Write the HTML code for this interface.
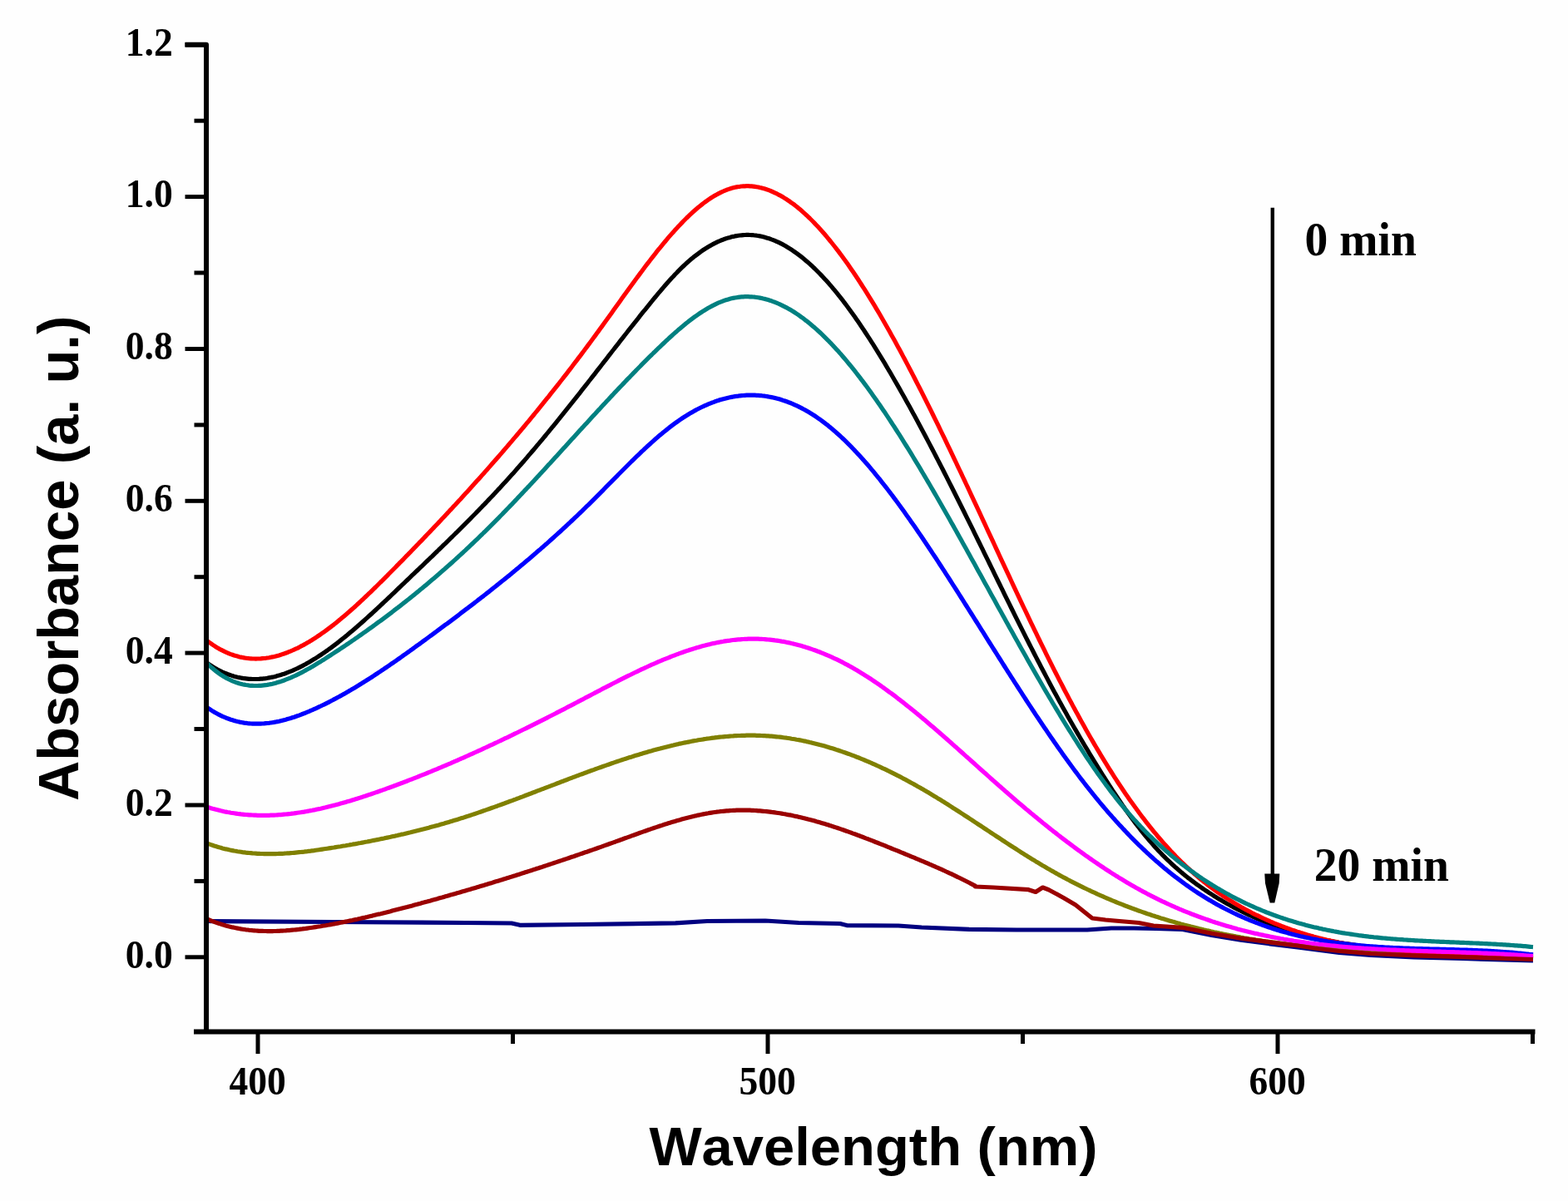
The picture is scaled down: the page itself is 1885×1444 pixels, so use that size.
<!DOCTYPE html>
<html><head><meta charset="utf-8"><title>Absorbance vs Wavelength</title>
<style>
html,body{margin:0;padding:0;background:#fefefe;}
body{width:1885px;height:1444px;overflow:hidden;}
svg{display:block;}
text{font-kerning:none;font-feature-settings:"kern" 0;}
.tl{font-family:"Liberation Serif","Times New Roman",serif;font-weight:bold;font-size:48px;fill:#000;}
.at{font-family:"Liberation Sans",Arial,sans-serif;font-weight:bold;font-size:67px;fill:#000;}
.an{font-family:"Liberation Serif","Times New Roman",serif;font-weight:bold;font-size:55.6px;fill:#000;}
</style></head>
<body>
<svg width="1885" height="1444" viewBox="0 0 1885 1444">
<rect width="1885" height="1444" fill="#fefefe"/>
<g fill="none" stroke-width="5.2" stroke-linejoin="round" stroke-linecap="butt">
<path d="M248.0,1107.5 400.0,1108.5 560.0,1109.5 615.0,1110.0 625.0,1112.3 700.0,1111.5 812.0,1109.8 850.0,1107.5 920.0,1107.0 960.0,1109.5 1010.0,1110.5 1018.0,1112.6 1080.0,1113.0 1108.0,1115.0 1165.0,1117.4 1222.0,1118.0 1307.0,1118.0 1336.0,1116.0 1363.0,1116.0 1390.0,1116.5 1421.7,1117.5 1456.7,1124.5 1491.7,1130.2 1526.7,1134.8 1560.0,1139.0 1610.0,1145.5 1648.0,1148.5 1700.0,1150.8 1759.0,1152.5 1843.0,1155.0" stroke="#000080"/>
<path d="M247.5,1013.5 249.5,1014.2 251.5,1014.9 253.5,1015.6 255.5,1016.3 257.5,1017.0 259.5,1017.6 261.5,1018.2 263.5,1018.8 265.5,1019.3 267.5,1019.9 269.5,1020.4 271.5,1020.9 273.5,1021.3 275.5,1021.8 277.5,1022.2 279.5,1022.6 281.5,1023.0 283.5,1023.3 285.5,1023.7 287.5,1024.0 289.5,1024.3 291.5,1024.6 293.5,1024.8 295.5,1025.1 297.5,1025.3 299.5,1025.5 301.5,1025.7 303.5,1025.9 305.5,1026.0 307.5,1026.1 309.5,1026.3 311.5,1026.4 313.5,1026.5 315.5,1026.5 317.5,1026.6 319.5,1026.6 321.5,1026.6 323.5,1026.7 325.5,1026.7 327.5,1026.6 329.5,1026.6 331.5,1026.6 333.5,1026.5 335.5,1026.4 337.5,1026.4 339.5,1026.3 341.5,1026.2 343.5,1026.0 345.5,1025.9 347.5,1025.8 349.5,1025.6 351.5,1025.5 353.5,1025.3 355.5,1025.1 357.5,1024.9 359.5,1024.7 361.5,1024.5 363.5,1024.3 365.5,1024.1 367.5,1023.8 369.5,1023.6 371.5,1023.3 373.5,1023.1 375.5,1022.8 377.5,1022.6 379.5,1022.3 381.5,1022.0 383.5,1021.7 385.5,1021.4 387.5,1021.1 389.5,1020.8 391.5,1020.5 393.5,1020.2 395.5,1019.9 397.5,1019.6 399.5,1019.3 401.5,1019.0 403.5,1018.6 405.5,1018.3 407.5,1018.0 409.5,1017.7 411.5,1017.3 413.5,1017.0 415.5,1016.7 417.5,1016.3 419.5,1016.0 421.5,1015.6 423.5,1015.3 425.5,1014.9 427.5,1014.6 429.5,1014.2 431.5,1013.8 433.5,1013.5 435.5,1013.1 437.5,1012.7 439.5,1012.3 441.5,1012.0 443.5,1011.6 445.5,1011.2 447.5,1010.8 449.5,1010.4 451.5,1010.0 453.5,1009.6 455.5,1009.2 457.5,1008.8 459.5,1008.4 461.5,1008.0 463.5,1007.5 465.5,1007.1 467.5,1006.7 469.5,1006.3 471.5,1005.8 473.5,1005.4 475.5,1004.9 477.5,1004.5 479.5,1004.0 481.5,1003.6 483.5,1003.1 485.5,1002.7 487.5,1002.2 489.5,1001.7 491.5,1001.2 493.5,1000.8 495.5,1000.3 497.5,999.8 499.5,999.3 501.5,998.8 503.5,998.3 505.5,997.8 507.5,997.3 509.5,996.8 511.5,996.2 513.5,995.7 515.5,995.2 517.5,994.6 519.5,994.1 521.5,993.6 523.5,993.0 525.5,992.4 527.5,991.9 529.5,991.3 531.5,990.7 533.5,990.2 535.5,989.6 537.5,989.0 539.5,988.4 541.5,987.8 543.5,987.2 545.5,986.6 547.5,986.0 549.5,985.4 551.5,984.8 553.5,984.1 555.5,983.5 557.5,982.9 559.5,982.2 561.5,981.6 563.5,980.9 565.5,980.3 567.5,979.6 569.5,978.9 571.5,978.3 573.5,977.6 575.5,976.9 577.5,976.2 579.5,975.5 581.5,974.8 583.5,974.1 585.5,973.4 587.5,972.7 589.5,972.0 591.5,971.3 593.5,970.6 595.5,969.9 597.5,969.2 599.5,968.4 601.5,967.7 603.5,967.0 605.5,966.3 607.5,965.5 609.5,964.8 611.5,964.0 613.5,963.3 615.5,962.6 617.5,961.8 619.5,961.1 621.5,960.3 623.5,959.6 625.5,958.8 627.5,958.1 629.5,957.3 631.5,956.5 633.5,955.8 635.5,955.0 637.5,954.3 639.5,953.5 641.5,952.7 643.5,952.0 645.5,951.2 647.5,950.4 649.5,949.7 651.5,948.9 653.5,948.2 655.5,947.4 657.5,946.6 659.5,945.9 661.5,945.1 663.5,944.3 665.5,943.6 667.5,942.8 669.5,942.0 671.5,941.3 673.5,940.5 675.5,939.7 677.5,939.0 679.5,938.2 681.5,937.5 683.5,936.7 685.5,935.9 687.5,935.2 689.5,934.4 691.5,933.7 693.5,932.9 695.5,932.2 697.5,931.4 699.5,930.7 701.5,930.0 703.5,929.2 705.5,928.5 707.5,927.7 709.5,927.0 711.5,926.3 713.5,925.6 715.5,924.8 717.5,924.1 719.5,923.4 721.5,922.7 723.5,922.0 725.5,921.3 727.5,920.6 729.5,919.9 731.5,919.2 733.5,918.5 735.5,917.8 737.5,917.1 739.5,916.4 741.5,915.7 743.5,915.1 745.5,914.4 747.5,913.7 749.5,913.1 751.5,912.4 753.5,911.8 755.5,911.1 757.5,910.5 759.5,909.9 761.5,909.2 763.5,908.6 765.5,908.0 767.5,907.4 769.5,906.8 771.5,906.2 773.5,905.6 775.5,905.0 777.5,904.4 779.5,903.8 781.5,903.2 783.5,902.7 785.5,902.1 787.5,901.6 789.5,901.0 791.5,900.5 793.5,900.0 795.5,899.4 797.5,898.9 799.5,898.4 801.5,897.9 803.5,897.4 805.5,896.9 807.5,896.4 809.5,896.0 811.5,895.5 813.5,895.0 815.5,894.6 817.5,894.1 819.5,893.7 821.5,893.3 823.5,892.9 825.5,892.5 827.5,892.1 829.5,891.7 831.5,891.3 833.5,890.9 835.5,890.5 837.5,890.2 839.5,889.8 841.5,889.5 843.5,889.2 845.5,888.9 847.5,888.5 849.5,888.2 851.5,888.0 853.5,887.7 855.5,887.4 857.5,887.2 859.5,886.9 861.5,886.7 863.5,886.4 865.5,886.2 867.5,886.0 869.5,885.8 871.5,885.6 873.5,885.5 875.5,885.3 877.5,885.1 879.5,885.0 881.5,884.9 883.5,884.7 885.5,884.6 887.5,884.5 889.5,884.5 891.5,884.4 893.5,884.3 895.5,884.3 897.5,884.2 899.5,884.2 901.5,884.2 903.5,884.2 905.5,884.2 907.5,884.2 909.5,884.3 911.5,884.3 913.5,884.4 915.5,884.5 917.5,884.6 919.5,884.7 921.5,884.8 923.5,884.9 925.5,885.1 927.5,885.2 929.5,885.4 931.5,885.6 933.5,885.8 935.5,886.0 937.5,886.2 939.5,886.4 941.5,886.7 943.5,887.0 945.5,887.2 947.5,887.5 949.5,887.8 951.5,888.2 953.5,888.5 955.5,888.8 957.5,889.2 959.5,889.5 961.5,889.9 963.5,890.3 965.5,890.7 967.5,891.1 969.5,891.6 971.5,892.0 973.5,892.5 975.5,892.9 977.5,893.4 979.5,893.9 981.5,894.4 983.5,894.9 985.5,895.5 987.5,896.0 989.5,896.5 991.5,897.1 993.5,897.7 995.5,898.3 997.5,898.9 999.5,899.5 1001.5,900.1 1003.5,900.7 1005.5,901.4 1007.5,902.0 1009.5,902.7 1011.5,903.4 1013.5,904.1 1015.5,904.8 1017.5,905.5 1019.5,906.2 1021.5,906.9 1023.5,907.7 1025.5,908.4 1027.5,909.2 1029.5,910.0 1031.5,910.7 1033.5,911.5 1035.5,912.4 1037.5,913.2 1039.5,914.0 1041.5,914.8 1043.5,915.7 1045.5,916.5 1047.5,917.4 1049.5,918.3 1051.5,919.2 1053.5,920.1 1055.5,921.0 1057.5,921.9 1059.5,922.8 1061.5,923.8 1063.5,924.7 1065.5,925.7 1067.5,926.7 1069.5,927.6 1071.5,928.6 1073.5,929.6 1075.5,930.6 1077.5,931.6 1079.5,932.7 1081.5,933.7 1083.5,934.7 1085.5,935.8 1087.5,936.8 1089.5,937.9 1091.5,939.0 1093.5,940.1 1095.5,941.2 1097.5,942.3 1099.5,943.4 1101.5,944.5 1103.5,945.7 1105.5,946.8 1107.5,947.9 1109.5,949.1 1111.5,950.3 1113.5,951.4 1115.5,952.6 1117.5,953.8 1119.5,955.0 1121.5,956.2 1123.5,957.4 1125.5,958.6 1127.5,959.9 1129.5,961.1 1131.5,962.3 1133.5,963.6 1135.5,964.8 1137.5,966.1 1139.5,967.3 1141.5,968.6 1143.5,969.9 1145.5,971.2 1147.5,972.4 1149.5,973.7 1151.5,975.0 1153.5,976.3 1155.5,977.6 1157.5,978.9 1159.5,980.2 1161.5,981.5 1163.5,982.8 1165.5,984.1 1167.5,985.4 1169.5,986.7 1171.5,988.1 1173.5,989.4 1175.5,990.7 1177.5,992.0 1179.5,993.3 1181.5,994.6 1183.5,996.0 1185.5,997.3 1187.5,998.6 1189.5,999.9 1191.5,1001.3 1193.5,1002.6 1195.5,1003.9 1197.5,1005.2 1199.5,1006.5 1201.5,1007.8 1203.5,1009.1 1205.5,1010.5 1207.5,1011.8 1209.5,1013.1 1211.5,1014.4 1213.5,1015.7 1215.5,1017.0 1217.5,1018.3 1219.5,1019.5 1221.5,1020.8 1223.5,1022.1 1225.5,1023.4 1227.5,1024.7 1229.5,1025.9 1231.5,1027.2 1233.5,1028.4 1235.5,1029.7 1237.5,1030.9 1239.5,1032.2 1241.5,1033.4 1243.5,1034.6 1245.5,1035.9 1247.5,1037.1 1249.5,1038.3 1251.5,1039.5 1253.5,1040.7 1255.5,1041.8 1257.5,1043.0 1259.5,1044.2 1261.5,1045.3 1263.5,1046.5 1265.5,1047.6 1267.5,1048.8 1269.5,1049.9 1271.5,1051.0 1273.5,1052.1 1275.5,1053.2 1277.5,1054.3 1279.5,1055.3 1281.5,1056.4 1283.5,1057.5 1285.5,1058.5 1287.5,1059.6 1289.5,1060.6 1291.5,1061.6 1293.5,1062.6 1295.5,1063.6 1297.5,1064.6 1299.5,1065.6 1301.5,1066.6 1303.5,1067.6 1305.5,1068.5 1307.5,1069.5 1309.5,1070.4 1311.5,1071.4 1313.5,1072.3 1315.5,1073.2 1317.5,1074.1 1319.5,1075.1 1321.5,1076.0 1323.5,1076.8 1325.5,1077.7 1327.5,1078.6 1329.5,1079.5 1331.5,1080.3 1333.5,1081.2 1335.5,1082.0 1337.5,1082.9 1339.5,1083.7 1341.5,1084.5 1343.5,1085.3 1345.5,1086.1 1347.5,1086.9 1349.5,1087.7 1351.5,1088.5 1353.5,1089.3 1355.5,1090.0 1357.5,1090.8 1359.5,1091.5 1361.5,1092.3 1363.5,1093.0 1365.5,1093.7 1367.5,1094.5 1369.5,1095.2 1371.5,1095.9 1373.5,1096.6 1375.5,1097.3 1377.5,1098.0 1379.5,1098.7 1381.5,1099.3 1383.5,1100.0 1385.5,1100.7 1387.5,1101.3 1389.5,1102.0 1391.5,1102.6 1393.5,1103.2 1395.5,1103.9 1397.5,1104.5 1399.5,1105.1 1401.5,1105.7 1403.5,1106.3 1405.5,1106.9 1407.5,1107.5 1409.5,1108.1 1411.5,1108.6 1413.5,1109.2 1415.5,1109.8 1417.5,1110.3 1419.5,1110.9 1421.5,1111.4 1423.5,1112.0 1425.5,1112.5 1427.5,1113.0 1429.5,1113.5 1431.5,1114.1 1433.5,1114.6 1435.5,1115.1 1437.5,1115.6 1439.5,1116.1 1441.5,1116.6 1443.5,1117.0 1445.5,1117.5 1447.5,1118.0 1449.5,1118.4 1451.5,1118.9 1453.5,1119.3 1455.5,1119.8 1457.5,1120.2 1459.5,1120.7 1461.5,1121.1 1463.5,1121.5 1465.5,1121.9 1467.5,1122.4 1469.5,1122.8 1471.5,1123.2 1473.5,1123.6 1475.5,1124.0 1477.5,1124.4 1479.5,1124.7 1481.5,1125.1 1483.5,1125.5 1485.5,1125.9 1487.5,1126.2 1489.5,1126.6 1491.5,1127.0 1493.5,1127.3 1495.5,1127.7 1497.5,1128.0 1499.5,1128.3 1501.5,1128.7 1503.5,1129.0 1505.5,1129.3 1507.5,1129.6 1509.5,1130.0 1511.5,1130.3 1513.5,1130.6 1515.5,1130.9 1517.5,1131.2 1519.5,1131.5 1521.5,1131.8 1523.5,1132.0 1525.5,1132.3 1527.5,1132.6 1529.5,1132.9 1531.5,1133.1 1533.5,1133.4 1535.5,1133.7 1537.5,1133.9 1539.5,1134.2 1541.5,1134.4 1543.5,1134.7 1545.5,1134.9 1547.5,1135.2 1549.5,1135.4 1551.5,1135.6 1553.5,1135.9 1555.5,1136.1 1557.5,1136.3 1559.5,1136.5 1561.5,1136.7 1563.5,1137.0 1565.5,1137.2 1567.5,1137.4 1569.5,1137.6 1571.5,1137.8 1573.5,1138.0 1575.5,1138.2 1577.5,1138.4 1579.5,1138.5 1581.5,1138.7 1583.5,1138.9 1585.5,1139.1 1587.5,1139.3 1589.5,1139.4 1591.5,1139.6 1593.5,1139.8 1595.5,1139.9 1597.5,1140.1 1599.5,1140.3 1601.5,1140.4 1603.5,1140.6 1605.5,1140.7 1607.5,1140.9 1609.5,1141.0 1611.5,1141.2 1613.5,1141.3 1615.5,1141.5 1617.5,1141.6 1619.5,1141.7 1621.5,1141.9 1623.5,1142.0 1625.5,1142.1 1627.5,1142.3 1629.5,1142.4 1631.5,1142.5 1633.5,1142.6 1635.5,1142.7 1637.5,1142.9 1639.5,1143.0 1641.5,1143.1 1643.5,1143.2 1645.5,1143.3 1647.5,1143.4 1649.5,1143.5 1651.5,1143.6 1653.5,1143.8 1655.5,1143.9 1657.5,1144.0 1659.5,1144.1 1661.5,1144.2 1663.5,1144.3 1665.5,1144.4 1667.5,1144.5 1669.5,1144.5 1671.5,1144.6 1673.5,1144.7 1675.5,1144.8 1677.5,1144.9 1679.5,1145.0 1681.5,1145.1 1683.5,1145.2 1685.5,1145.3 1687.5,1145.3 1689.5,1145.4 1691.5,1145.5 1693.5,1145.6 1695.5,1145.7 1697.5,1145.8 1699.5,1145.8 1701.5,1145.9 1703.5,1146.0 1705.5,1146.1 1707.5,1146.2 1709.5,1146.2 1711.5,1146.3 1713.5,1146.4 1715.5,1146.5 1717.5,1146.6 1719.5,1146.6 1721.5,1146.7 1723.5,1146.8 1725.5,1146.9 1727.5,1146.9 1729.5,1147.0 1731.5,1147.1 1733.5,1147.2 1735.5,1147.3 1737.5,1147.3 1739.5,1147.4 1741.5,1147.5 1743.5,1147.6 1745.5,1147.6 1747.5,1147.7 1749.5,1147.8 1751.5,1147.9 1753.5,1148.0 1755.5,1148.0 1757.5,1148.1 1759.5,1148.2 1761.5,1148.3 1763.5,1148.4 1765.5,1148.5 1767.5,1148.5 1769.5,1148.6 1771.5,1148.7 1773.5,1148.8 1775.5,1148.9 1777.5,1149.0 1779.5,1149.1 1781.5,1149.2 1783.5,1149.2 1785.5,1149.3 1787.5,1149.4 1789.5,1149.5 1791.5,1149.6 1793.5,1149.7 1795.5,1149.8 1797.5,1149.9 1799.5,1150.0 1801.5,1150.1 1803.5,1150.2 1805.5,1150.3 1807.5,1150.4 1809.5,1150.6 1811.5,1150.7 1813.5,1150.8 1815.5,1150.9 1817.5,1151.0 1819.5,1151.1 1821.5,1151.2 1823.5,1151.4 1825.5,1151.5 1827.5,1151.6 1829.5,1151.7 1831.5,1151.9 1833.5,1152.0 1835.5,1152.1 1837.5,1152.3 1839.5,1152.4 1841.5,1152.6 1843.0,1152.7" stroke="#808000"/>
<path d="M247.5,796.1 249.5,797.5 251.5,798.9 253.5,800.2 255.5,801.5 257.5,802.7 259.5,803.9 261.5,805.0 263.5,806.0 265.5,807.0 267.5,808.0 269.5,808.9 271.5,809.7 273.5,810.5 275.5,811.2 277.5,811.9 279.5,812.6 281.5,813.2 283.5,813.7 285.5,814.2 287.5,814.6 289.5,815.0 291.5,815.4 293.5,815.7 295.5,815.9 297.5,816.1 299.5,816.3 301.5,816.4 303.5,816.5 305.5,816.5 307.5,816.5 309.5,816.5 311.5,816.4 313.5,816.2 315.5,816.1 317.5,815.8 319.5,815.6 321.5,815.3 323.5,814.9 325.5,814.5 327.5,814.1 329.5,813.7 331.5,813.2 333.5,812.6 335.5,812.1 337.5,811.5 339.5,810.8 341.5,810.2 343.5,809.5 345.5,808.7 347.5,807.9 349.5,807.1 351.5,806.3 353.5,805.4 355.5,804.5 357.5,803.6 359.5,802.6 361.5,801.6 363.5,800.6 365.5,799.5 367.5,798.5 369.5,797.3 371.5,796.2 373.5,795.0 375.5,793.8 377.5,792.6 379.5,791.4 381.5,790.1 383.5,788.8 385.5,787.5 387.5,786.1 389.5,784.8 391.5,783.4 393.5,782.0 395.5,780.5 397.5,779.1 399.5,777.6 401.5,776.1 403.5,774.6 405.5,773.1 407.5,771.5 409.5,769.9 411.5,768.3 413.5,766.7 415.5,765.1 417.5,763.5 419.5,761.8 421.5,760.1 423.5,758.4 425.5,756.7 427.5,755.0 429.5,753.3 431.5,751.5 433.5,749.8 435.5,748.0 437.5,746.2 439.5,744.4 441.5,742.6 443.5,740.8 445.5,739.0 447.5,737.2 449.5,735.3 451.5,733.5 453.5,731.6 455.5,729.8 457.5,727.9 459.5,726.0 461.5,724.1 463.5,722.3 465.5,720.4 467.5,718.5 469.5,716.6 471.5,714.7 473.5,712.8 475.5,710.9 477.5,708.9 479.5,707.0 481.5,705.1 483.5,703.2 485.5,701.3 487.5,699.4 489.5,697.5 491.5,695.6 493.5,693.7 495.5,691.7 497.5,689.8 499.5,687.9 501.5,686.0 503.5,684.1 505.5,682.2 507.5,680.3 509.5,678.4 511.5,676.4 513.5,674.5 515.5,672.6 517.5,670.7 519.5,668.8 521.5,666.8 523.5,664.9 525.5,663.0 527.5,661.0 529.5,659.1 531.5,657.2 533.5,655.2 535.5,653.3 537.5,651.3 539.5,649.4 541.5,647.4 543.5,645.5 545.5,643.5 547.5,641.5 549.5,639.6 551.5,637.6 553.5,635.6 555.5,633.6 557.5,631.6 559.5,629.6 561.5,627.6 563.5,625.6 565.5,623.6 567.5,621.5 569.5,619.5 571.5,617.5 573.5,615.4 575.5,613.4 577.5,611.3 579.5,609.2 581.5,607.2 583.5,605.1 585.5,603.0 587.5,600.9 589.5,598.8 591.5,596.7 593.5,594.6 595.5,592.4 597.5,590.3 599.5,588.1 601.5,586.0 603.5,583.8 605.5,581.6 607.5,579.4 609.5,577.2 611.5,575.0 613.5,572.8 615.5,570.6 617.5,568.4 619.5,566.1 621.5,563.8 623.5,561.6 625.5,559.3 627.5,557.0 629.5,554.7 631.5,552.4 633.5,550.1 635.5,547.7 637.5,545.4 639.5,543.0 641.5,540.7 643.5,538.3 645.5,535.9 647.5,533.6 649.5,531.2 651.5,528.8 653.5,526.4 655.5,524.0 657.5,521.5 659.5,519.1 661.5,516.7 663.5,514.2 665.5,511.8 667.5,509.3 669.5,506.8 671.5,504.4 673.5,501.9 675.5,499.4 677.5,496.9 679.5,494.4 681.5,491.9 683.5,489.4 685.5,486.9 687.5,484.4 689.5,481.9 691.5,479.4 693.5,476.8 695.5,474.3 697.5,471.8 699.5,469.2 701.5,466.7 703.5,464.1 705.5,461.6 707.5,459.0 709.5,456.5 711.5,453.9 713.5,451.3 715.5,448.8 717.5,446.2 719.5,443.6 721.5,441.1 723.5,438.5 725.5,435.9 727.5,433.3 729.5,430.8 731.5,428.2 733.5,425.6 735.5,423.0 737.5,420.5 739.5,417.9 741.5,415.3 743.5,412.8 745.5,410.2 747.5,407.6 749.5,405.1 751.5,402.5 753.5,400.0 755.5,397.4 757.5,394.9 759.5,392.4 761.5,389.8 763.5,387.3 765.5,384.8 767.5,382.3 769.5,379.7 771.5,377.2 773.5,374.7 775.5,372.3 777.5,369.8 779.5,367.3 781.5,364.8 783.5,362.4 785.5,359.9 787.5,357.5 789.5,355.1 791.5,352.7 793.5,350.3 795.5,348.0 797.5,345.6 799.5,343.3 801.5,341.0 803.5,338.8 805.5,336.5 807.5,334.3 809.5,332.2 811.5,330.0 813.5,328.0 815.5,325.9 817.5,323.9 819.5,321.9 821.5,320.0 823.5,318.1 825.5,316.3 827.5,314.5 829.5,312.8 831.5,311.1 833.5,309.4 835.5,307.8 837.5,306.3 839.5,304.8 841.5,303.3 843.5,301.9 845.5,300.5 847.5,299.2 849.5,298.0 851.5,296.7 853.5,295.6 855.5,294.5 857.5,293.4 859.5,292.4 861.5,291.4 863.5,290.4 865.5,289.6 867.5,288.7 869.5,288.0 871.5,287.2 873.5,286.6 875.5,285.9 877.5,285.4 879.5,284.8 881.5,284.4 883.5,283.9 885.5,283.6 887.5,283.3 889.5,283.0 891.5,282.8 893.5,282.6 895.5,282.5 897.5,282.4 899.5,282.4 901.5,282.5 903.5,282.6 905.5,282.7 907.5,283.0 909.5,283.2 911.5,283.5 913.5,283.9 915.5,284.3 917.5,284.8 919.5,285.3 921.5,285.9 923.5,286.5 925.5,287.1 927.5,287.9 929.5,288.6 931.5,289.4 933.5,290.3 935.5,291.2 937.5,292.2 939.5,293.2 941.5,294.2 943.5,295.3 945.5,296.5 947.5,297.7 949.5,298.9 951.5,300.2 953.5,301.6 955.5,303.0 957.5,304.4 959.5,305.9 961.5,307.4 963.5,308.9 965.5,310.5 967.5,312.2 969.5,313.9 971.5,315.6 973.5,317.4 975.5,319.2 977.5,321.1 979.5,323.0 981.5,325.0 983.5,327.0 985.5,329.0 987.5,331.1 989.5,333.2 991.5,335.4 993.5,337.6 995.5,339.8 997.5,342.1 999.5,344.4 1001.5,346.8 1003.5,349.2 1005.5,351.6 1007.5,354.1 1009.5,356.6 1011.5,359.2 1013.5,361.7 1015.5,364.4 1017.5,367.0 1019.5,369.7 1021.5,372.5 1023.5,375.2 1025.5,378.0 1027.5,380.8 1029.5,383.7 1031.5,386.6 1033.5,389.5 1035.5,392.5 1037.5,395.4 1039.5,398.5 1041.5,401.5 1043.5,404.6 1045.5,407.7 1047.5,410.8 1049.5,413.9 1051.5,417.1 1053.5,420.3 1055.5,423.6 1057.5,426.8 1059.5,430.1 1061.5,433.4 1063.5,436.7 1065.5,440.1 1067.5,443.5 1069.5,446.8 1071.5,450.3 1073.5,453.7 1075.5,457.2 1077.5,460.6 1079.5,464.1 1081.5,467.6 1083.5,471.2 1085.5,474.7 1087.5,478.3 1089.5,481.9 1091.5,485.5 1093.5,489.1 1095.5,492.8 1097.5,496.4 1099.5,500.1 1101.5,503.8 1103.5,507.5 1105.5,511.2 1107.5,515.0 1109.5,518.7 1111.5,522.5 1113.5,526.3 1115.5,530.1 1117.5,533.9 1119.5,537.7 1121.5,541.5 1123.5,545.4 1125.5,549.3 1127.5,553.1 1129.5,557.0 1131.5,560.9 1133.5,564.8 1135.5,568.7 1137.5,572.7 1139.5,576.6 1141.5,580.6 1143.5,584.5 1145.5,588.5 1147.5,592.5 1149.5,596.5 1151.5,600.5 1153.5,604.5 1155.5,608.5 1157.5,612.5 1159.5,616.5 1161.5,620.6 1163.5,624.6 1165.5,628.6 1167.5,632.7 1169.5,636.7 1171.5,640.8 1173.5,644.9 1175.5,649.0 1177.5,653.0 1179.5,657.1 1181.5,661.2 1183.5,665.3 1185.5,669.4 1187.5,673.4 1189.5,677.5 1191.5,681.6 1193.5,685.7 1195.5,689.8 1197.5,693.9 1199.5,698.0 1201.5,702.0 1203.5,706.1 1205.5,710.2 1207.5,714.3 1209.5,718.3 1211.5,722.4 1213.5,726.4 1215.5,730.5 1217.5,734.5 1219.5,738.6 1221.5,742.6 1223.5,746.6 1225.5,750.6 1227.5,754.6 1229.5,758.6 1231.5,762.6 1233.5,766.6 1235.5,770.5 1237.5,774.5 1239.5,778.4 1241.5,782.3 1243.5,786.2 1245.5,790.1 1247.5,794.0 1249.5,797.8 1251.5,801.7 1253.5,805.5 1255.5,809.3 1257.5,813.1 1259.5,816.9 1261.5,820.7 1263.5,824.4 1265.5,828.2 1267.5,831.9 1269.5,835.6 1271.5,839.2 1273.5,842.9 1275.5,846.5 1277.5,850.2 1279.5,853.8 1281.5,857.3 1283.5,860.9 1285.5,864.5 1287.5,868.0 1289.5,871.5 1291.5,875.0 1293.5,878.4 1295.5,881.9 1297.5,885.3 1299.5,888.7 1301.5,892.1 1303.5,895.5 1305.5,898.9 1307.5,902.2 1309.5,905.6 1311.5,908.9 1313.5,912.2 1315.5,915.4 1317.5,918.7 1319.5,921.9 1321.5,925.2 1323.5,928.4 1325.5,931.6 1327.5,934.7 1329.5,937.9 1331.5,941.0 1333.5,944.1 1335.5,947.2 1337.5,950.3 1339.5,953.3 1341.5,956.3 1343.5,959.3 1345.5,962.3 1347.5,965.2 1349.5,968.2 1351.5,971.0 1353.5,973.9 1355.5,976.7 1357.5,979.5 1359.5,982.3 1361.5,985.0 1363.5,987.7 1365.5,990.3 1367.5,992.9 1369.5,995.5 1371.5,998.1 1373.5,1000.6 1375.5,1003.1 1377.5,1005.5 1379.5,1007.9 1381.5,1010.3 1383.5,1012.6 1385.5,1014.9 1387.5,1017.2 1389.5,1019.4 1391.5,1021.6 1393.5,1023.7 1395.5,1025.8 1397.5,1027.9 1399.5,1029.9 1401.5,1031.9 1403.5,1033.8 1405.5,1035.7 1407.5,1037.6 1409.5,1039.5 1411.5,1041.3 1413.5,1043.1 1415.5,1044.8 1417.5,1046.6 1419.5,1048.3 1421.5,1049.9 1423.5,1051.6 1425.5,1053.2 1427.5,1054.8 1429.5,1056.3 1431.5,1057.9 1433.5,1059.4 1435.5,1060.9 1437.5,1062.3 1439.5,1063.8 1441.5,1065.2 1443.5,1066.6 1445.5,1068.0 1447.5,1069.4 1449.5,1070.7 1451.5,1072.0 1453.5,1073.4 1455.5,1074.6 1457.5,1075.9 1459.5,1077.2 1461.5,1078.4 1463.5,1079.7 1465.5,1080.9 1467.5,1082.1 1469.5,1083.3 1471.5,1084.4 1473.5,1085.6 1475.5,1086.7 1477.5,1087.8 1479.5,1088.9 1481.5,1090.0 1483.5,1091.1 1485.5,1092.1 1487.5,1093.2 1489.5,1094.2 1491.5,1095.2 1493.5,1096.2 1495.5,1097.2 1497.5,1098.2 1499.5,1099.1 1501.5,1100.1 1503.5,1101.0 1505.5,1101.9 1507.5,1102.8 1509.5,1103.7 1511.5,1104.6 1513.5,1105.5 1515.5,1106.3 1517.5,1107.1 1519.5,1108.0 1521.5,1108.8 1523.5,1109.6 1525.5,1110.3 1527.5,1111.1 1529.5,1111.9 1531.5,1112.6 1533.5,1113.3 1535.5,1114.1 1537.5,1114.8 1539.5,1115.5 1541.5,1116.2 1543.5,1116.8 1545.5,1117.5 1547.5,1118.1 1549.5,1118.8 1551.5,1119.4 1553.5,1120.0 1555.5,1120.6 1557.5,1121.2 1559.5,1121.8 1561.5,1122.4 1563.5,1122.9 1565.5,1123.5 1567.5,1124.0 1569.5,1124.6 1571.5,1125.1 1573.5,1125.6 1575.5,1126.1 1577.5,1126.6 1579.5,1127.1 1581.5,1127.5 1583.5,1128.0 1585.5,1128.4 1587.5,1128.9 1589.5,1129.3 1591.5,1129.7 1593.5,1130.2 1595.5,1130.6 1597.5,1131.0 1599.5,1131.4 1601.5,1131.7 1603.5,1132.1 1605.5,1132.5 1607.5,1132.8 1609.5,1133.2 1611.5,1133.5 1613.5,1133.9 1615.5,1134.2 1617.5,1134.5 1619.5,1134.8 1621.5,1135.1 1623.5,1135.4 1625.5,1135.7 1627.5,1136.0 1629.5,1136.3 1631.5,1136.5 1633.5,1136.8 1635.5,1137.1 1637.5,1137.3 1639.5,1137.6 1641.5,1137.8 1643.5,1138.0 1645.5,1138.3 1647.5,1138.5 1649.5,1138.7 1651.5,1138.9 1653.5,1139.1 1655.5,1139.3 1657.5,1139.5 1659.5,1139.7 1661.5,1139.9 1663.5,1140.0 1665.5,1140.2 1667.5,1140.4 1669.5,1140.5 1671.5,1140.7 1673.5,1140.9 1675.5,1141.0 1677.5,1141.2 1679.5,1141.3 1681.5,1141.4 1683.5,1141.6 1685.5,1141.7 1687.5,1141.8 1689.5,1142.0 1691.5,1142.1 1693.5,1142.2 1695.5,1142.3 1697.5,1142.4 1699.5,1142.5 1701.5,1142.6 1703.5,1142.7 1705.5,1142.8 1707.5,1142.9 1709.5,1143.0 1711.5,1143.1 1713.5,1143.2 1715.5,1143.3 1717.5,1143.4 1719.5,1143.5 1721.5,1143.6 1723.5,1143.7 1725.5,1143.7 1727.5,1143.8 1729.5,1143.9 1731.5,1144.0 1733.5,1144.1 1735.5,1144.1 1737.5,1144.2 1739.5,1144.3 1741.5,1144.4 1743.5,1144.4 1745.5,1144.5 1747.5,1144.6 1749.5,1144.7 1751.5,1144.7 1753.5,1144.8 1755.5,1144.9 1757.5,1145.0 1759.5,1145.0 1761.5,1145.1 1763.5,1145.2 1765.5,1145.3 1767.5,1145.4 1769.5,1145.4 1771.5,1145.5 1773.5,1145.6 1775.5,1145.7 1777.5,1145.8 1779.5,1145.9 1781.5,1146.0 1783.5,1146.0 1785.5,1146.1 1787.5,1146.2 1789.5,1146.3 1791.5,1146.4 1793.5,1146.5 1795.5,1146.6 1797.5,1146.8 1799.5,1146.9 1801.5,1147.0 1803.5,1147.1 1805.5,1147.2 1807.5,1147.3 1809.5,1147.5 1811.5,1147.6 1813.5,1147.7 1815.5,1147.9 1817.5,1148.0 1819.5,1148.2 1821.5,1148.3 1823.5,1148.5 1825.5,1148.6 1827.5,1148.8 1829.5,1149.0 1831.5,1149.1 1833.5,1149.3 1835.5,1149.5 1837.5,1149.7 1839.5,1149.9 1841.5,1150.1 1843.0,1150.2" stroke="#000000"/>
<path d="M247.5,769.2 249.5,770.8 251.5,772.3 253.5,773.7 255.5,775.1 257.5,776.4 259.5,777.7 261.5,778.9 263.5,780.1 265.5,781.2 267.5,782.2 269.5,783.2 271.5,784.1 273.5,785.0 275.5,785.8 277.5,786.6 279.5,787.3 281.5,788.0 283.5,788.6 285.5,789.1 287.5,789.7 289.5,790.1 291.5,790.5 293.5,790.9 295.5,791.2 297.5,791.5 299.5,791.7 301.5,791.8 303.5,792.0 305.5,792.0 307.5,792.1 309.5,792.0 311.5,792.0 313.5,791.9 315.5,791.7 317.5,791.5 319.5,791.3 321.5,791.0 323.5,790.7 325.5,790.3 327.5,789.9 329.5,789.5 331.5,789.0 333.5,788.4 335.5,787.9 337.5,787.3 339.5,786.6 341.5,786.0 343.5,785.2 345.5,784.5 347.5,783.7 349.5,782.9 351.5,782.0 353.5,781.1 355.5,780.2 357.5,779.3 359.5,778.3 361.5,777.2 363.5,776.2 365.5,775.1 367.5,774.0 369.5,772.8 371.5,771.7 373.5,770.4 375.5,769.2 377.5,767.9 379.5,766.7 381.5,765.3 383.5,764.0 385.5,762.6 387.5,761.2 389.5,759.8 391.5,758.4 393.5,756.9 395.5,755.4 397.5,753.9 399.5,752.3 401.5,750.8 403.5,749.2 405.5,747.6 407.5,745.9 409.5,744.3 411.5,742.6 413.5,740.9 415.5,739.2 417.5,737.5 419.5,735.8 421.5,734.0 423.5,732.2 425.5,730.5 427.5,728.7 429.5,726.8 431.5,725.0 433.5,723.1 435.5,721.3 437.5,719.4 439.5,717.5 441.5,715.6 443.5,713.7 445.5,711.8 447.5,709.8 449.5,707.9 451.5,706.0 453.5,704.0 455.5,702.0 457.5,700.0 459.5,698.1 461.5,696.1 463.5,694.1 465.5,692.1 467.5,690.0 469.5,688.0 471.5,686.0 473.5,684.0 475.5,682.0 477.5,679.9 479.5,677.9 481.5,675.8 483.5,673.8 485.5,671.8 487.5,669.7 489.5,667.7 491.5,665.6 493.5,663.6 495.5,661.5 497.5,659.4 499.5,657.4 501.5,655.3 503.5,653.2 505.5,651.2 507.5,649.1 509.5,647.0 511.5,644.9 513.5,642.8 515.5,640.7 517.5,638.6 519.5,636.5 521.5,634.4 523.5,632.3 525.5,630.2 527.5,628.1 529.5,626.0 531.5,623.8 533.5,621.7 535.5,619.6 537.5,617.4 539.5,615.3 541.5,613.1 543.5,611.0 545.5,608.8 547.5,606.7 549.5,604.5 551.5,602.3 553.5,600.2 555.5,598.0 557.5,595.8 559.5,593.6 561.5,591.4 563.5,589.2 565.5,587.0 567.5,584.8 569.5,582.6 571.5,580.3 573.5,578.1 575.5,575.9 577.5,573.7 579.5,571.4 581.5,569.2 583.5,566.9 585.5,564.7 587.5,562.4 589.5,560.1 591.5,557.8 593.5,555.6 595.5,553.3 597.5,551.0 599.5,548.7 601.5,546.4 603.5,544.1 605.5,541.8 607.5,539.4 609.5,537.1 611.5,534.8 613.5,532.4 615.5,530.1 617.5,527.7 619.5,525.4 621.5,523.0 623.5,520.6 625.5,518.3 627.5,515.9 629.5,513.5 631.5,511.1 633.5,508.7 635.5,506.3 637.5,503.8 639.5,501.4 641.5,499.0 643.5,496.5 645.5,494.1 647.5,491.6 649.5,489.2 651.5,486.7 653.5,484.2 655.5,481.7 657.5,479.2 659.5,476.8 661.5,474.2 663.5,471.7 665.5,469.2 667.5,466.7 669.5,464.1 671.5,461.6 673.5,459.0 675.5,456.5 677.5,453.9 679.5,451.3 681.5,448.8 683.5,446.2 685.5,443.6 687.5,441.0 689.5,438.3 691.5,435.7 693.5,433.1 695.5,430.4 697.5,427.8 699.5,425.1 701.5,422.5 703.5,419.8 705.5,417.1 707.5,414.4 709.5,411.7 711.5,409.0 713.5,406.3 715.5,403.6 717.5,400.8 719.5,398.1 721.5,395.3 723.5,392.6 725.5,389.8 727.5,387.0 729.5,384.3 731.5,381.5 733.5,378.7 735.5,375.9 737.5,373.1 739.5,370.3 741.5,367.5 743.5,364.7 745.5,361.9 747.5,359.1 749.5,356.3 751.5,353.5 753.5,350.8 755.5,348.0 757.5,345.2 759.5,342.5 761.5,339.7 763.5,337.0 765.5,334.3 767.5,331.6 769.5,328.9 771.5,326.2 773.5,323.5 775.5,320.8 777.5,318.2 779.5,315.6 781.5,313.0 783.5,310.4 785.5,307.8 787.5,305.3 789.5,302.7 791.5,300.2 793.5,297.8 795.5,295.3 797.5,292.9 799.5,290.5 801.5,288.1 803.5,285.7 805.5,283.4 807.5,281.1 809.5,278.9 811.5,276.6 813.5,274.5 815.5,272.3 817.5,270.2 819.5,268.1 821.5,266.0 823.5,264.0 825.5,262.0 827.5,260.1 829.5,258.2 831.5,256.3 833.5,254.5 835.5,252.7 837.5,251.0 839.5,249.3 841.5,247.7 843.5,246.1 845.5,244.5 847.5,243.0 849.5,241.6 851.5,240.2 853.5,238.8 855.5,237.5 857.5,236.3 859.5,235.1 861.5,234.0 863.5,232.9 865.5,231.9 867.5,230.9 869.5,230.0 871.5,229.1 873.5,228.3 875.5,227.6 877.5,226.9 879.5,226.3 881.5,225.8 883.5,225.3 885.5,224.9 887.5,224.5 889.5,224.3 891.5,224.0 893.5,223.9 895.5,223.8 897.5,223.7 899.5,223.7 901.5,223.8 903.5,223.9 905.5,224.1 907.5,224.4 909.5,224.7 911.5,225.0 913.5,225.5 915.5,225.9 917.5,226.5 919.5,227.1 921.5,227.7 923.5,228.4 925.5,229.2 927.5,230.0 929.5,230.8 931.5,231.8 933.5,232.7 935.5,233.8 937.5,234.8 939.5,235.9 941.5,237.1 943.5,238.4 945.5,239.6 947.5,241.0 949.5,242.3 951.5,243.8 953.5,245.2 955.5,246.7 957.5,248.3 959.5,249.9 961.5,251.6 963.5,253.3 965.5,255.1 967.5,256.9 969.5,258.7 971.5,260.6 973.5,262.5 975.5,264.5 977.5,266.5 979.5,268.6 981.5,270.7 983.5,272.8 985.5,275.0 987.5,277.2 989.5,279.5 991.5,281.8 993.5,284.2 995.5,286.6 997.5,289.0 999.5,291.5 1001.5,294.0 1003.5,296.5 1005.5,299.1 1007.5,301.7 1009.5,304.4 1011.5,307.0 1013.5,309.8 1015.5,312.5 1017.5,315.3 1019.5,318.1 1021.5,321.0 1023.5,323.9 1025.5,326.8 1027.5,329.8 1029.5,332.8 1031.5,335.8 1033.5,338.9 1035.5,342.0 1037.5,345.1 1039.5,348.2 1041.5,351.4 1043.5,354.6 1045.5,357.8 1047.5,361.1 1049.5,364.4 1051.5,367.7 1053.5,371.1 1055.5,374.4 1057.5,377.8 1059.5,381.3 1061.5,384.7 1063.5,388.2 1065.5,391.7 1067.5,395.2 1069.5,398.8 1071.5,402.4 1073.5,406.0 1075.5,409.6 1077.5,413.2 1079.5,416.9 1081.5,420.6 1083.5,424.3 1085.5,428.1 1087.5,431.8 1089.5,435.6 1091.5,439.4 1093.5,443.2 1095.5,447.0 1097.5,450.9 1099.5,454.8 1101.5,458.7 1103.5,462.6 1105.5,466.5 1107.5,470.4 1109.5,474.4 1111.5,478.4 1113.5,482.4 1115.5,486.4 1117.5,490.4 1119.5,494.4 1121.5,498.5 1123.5,502.6 1125.5,506.6 1127.5,510.7 1129.5,514.8 1131.5,519.0 1133.5,523.1 1135.5,527.2 1137.5,531.4 1139.5,535.6 1141.5,539.7 1143.5,543.9 1145.5,548.1 1147.5,552.3 1149.5,556.5 1151.5,560.8 1153.5,565.0 1155.5,569.2 1157.5,573.5 1159.5,577.7 1161.5,582.0 1163.5,586.2 1165.5,590.5 1167.5,594.8 1169.5,599.1 1171.5,603.4 1173.5,607.7 1175.5,611.9 1177.5,616.2 1179.5,620.5 1181.5,624.9 1183.5,629.2 1185.5,633.5 1187.5,637.8 1189.5,642.1 1191.5,646.4 1193.5,650.7 1195.5,655.0 1197.5,659.3 1199.5,663.6 1201.5,668.0 1203.5,672.3 1205.5,676.6 1207.5,680.9 1209.5,685.2 1211.5,689.4 1213.5,693.7 1215.5,698.0 1217.5,702.3 1219.5,706.6 1221.5,710.8 1223.5,715.1 1225.5,719.3 1227.5,723.6 1229.5,727.8 1231.5,732.0 1233.5,736.2 1235.5,740.4 1237.5,744.6 1239.5,748.8 1241.5,752.9 1243.5,757.1 1245.5,761.2 1247.5,765.4 1249.5,769.5 1251.5,773.6 1253.5,777.7 1255.5,781.7 1257.5,785.8 1259.5,789.8 1261.5,793.8 1263.5,797.8 1265.5,801.8 1267.5,805.8 1269.5,809.7 1271.5,813.7 1273.5,817.6 1275.5,821.4 1277.5,825.3 1279.5,829.2 1281.5,833.0 1283.5,836.8 1285.5,840.6 1287.5,844.3 1289.5,848.1 1291.5,851.8 1293.5,855.5 1295.5,859.1 1297.5,862.8 1299.5,866.4 1301.5,870.0 1303.5,873.6 1305.5,877.2 1307.5,880.7 1309.5,884.2 1311.5,887.7 1313.5,891.1 1315.5,894.6 1317.5,898.0 1319.5,901.4 1321.5,904.7 1323.5,908.1 1325.5,911.4 1327.5,914.7 1329.5,917.9 1331.5,921.1 1333.5,924.3 1335.5,927.5 1337.5,930.7 1339.5,933.8 1341.5,936.9 1343.5,940.0 1345.5,943.0 1347.5,946.0 1349.5,949.0 1351.5,952.0 1353.5,954.9 1355.5,957.8 1357.5,960.7 1359.5,963.5 1361.5,966.3 1363.5,969.1 1365.5,971.8 1367.5,974.6 1369.5,977.3 1371.5,980.0 1373.5,982.6 1375.5,985.2 1377.5,987.8 1379.5,990.4 1381.5,992.9 1383.5,995.4 1385.5,997.9 1387.5,1000.3 1389.5,1002.7 1391.5,1005.1 1393.5,1007.5 1395.5,1009.8 1397.5,1012.1 1399.5,1014.4 1401.5,1016.6 1403.5,1018.8 1405.5,1021.0 1407.5,1023.2 1409.5,1025.3 1411.5,1027.4 1413.5,1029.5 1415.5,1031.5 1417.5,1033.5 1419.5,1035.5 1421.5,1037.5 1423.5,1039.4 1425.5,1041.3 1427.5,1043.2 1429.5,1045.0 1431.5,1046.8 1433.5,1048.6 1435.5,1050.4 1437.5,1052.1 1439.5,1053.8 1441.5,1055.5 1443.5,1057.2 1445.5,1058.8 1447.5,1060.5 1449.5,1062.0 1451.5,1063.6 1453.5,1065.1 1455.5,1066.7 1457.5,1068.2 1459.5,1069.6 1461.5,1071.1 1463.5,1072.5 1465.5,1073.9 1467.5,1075.3 1469.5,1076.6 1471.5,1078.0 1473.5,1079.3 1475.5,1080.6 1477.5,1081.9 1479.5,1083.1 1481.5,1084.3 1483.5,1085.6 1485.5,1086.8 1487.5,1087.9 1489.5,1089.1 1491.5,1090.2 1493.5,1091.4 1495.5,1092.5 1497.5,1093.6 1499.5,1094.6 1501.5,1095.7 1503.5,1096.7 1505.5,1097.8 1507.5,1098.8 1509.5,1099.8 1511.5,1100.7 1513.5,1101.7 1515.5,1102.7 1517.5,1103.6 1519.5,1104.5 1521.5,1105.4 1523.5,1106.3 1525.5,1107.2 1527.5,1108.1 1529.5,1108.9 1531.5,1109.8 1533.5,1110.6 1535.5,1111.4 1537.5,1112.2 1539.5,1113.0 1541.5,1113.8 1543.5,1114.5 1545.5,1115.3 1547.5,1116.0 1549.5,1116.7 1551.5,1117.5 1553.5,1118.2 1555.5,1118.8 1557.5,1119.5 1559.5,1120.2 1561.5,1120.8 1563.5,1121.5 1565.5,1122.1 1567.5,1122.7 1569.5,1123.3 1571.5,1123.9 1573.5,1124.5 1575.5,1125.1 1577.5,1125.6 1579.5,1126.2 1581.5,1126.7 1583.5,1127.2 1585.5,1127.8 1587.5,1128.3 1589.5,1128.8 1591.5,1129.2 1593.5,1129.7 1595.5,1130.2 1597.5,1130.6 1599.5,1131.1 1601.5,1131.5 1603.5,1132.0 1605.5,1132.4 1607.5,1132.8 1609.5,1133.2 1611.5,1133.6 1613.5,1134.0 1615.5,1134.4 1617.5,1134.7 1619.5,1135.1 1621.5,1135.4 1623.5,1135.8 1625.5,1136.1 1627.5,1136.4 1629.5,1136.8 1631.5,1137.1 1633.5,1137.4 1635.5,1137.7 1637.5,1138.0 1639.5,1138.3 1641.5,1138.5 1643.5,1138.8 1645.5,1139.1 1647.5,1139.3 1649.5,1139.6 1651.5,1139.8 1653.5,1140.1 1655.5,1140.3 1657.5,1140.5 1659.5,1140.7 1661.5,1140.9 1663.5,1141.2 1665.5,1141.4 1667.5,1141.6 1669.5,1141.7 1671.5,1141.9 1673.5,1142.1 1675.5,1142.3 1677.5,1142.5 1679.5,1142.6 1681.5,1142.8 1683.5,1142.9 1685.5,1143.1 1687.5,1143.2 1689.5,1143.4 1691.5,1143.5 1693.5,1143.7 1695.5,1143.8 1697.5,1143.9 1699.5,1144.1 1701.5,1144.2 1703.5,1144.3 1705.5,1144.4 1707.5,1144.5 1709.5,1144.6 1711.5,1144.8 1713.5,1144.9 1715.5,1145.0 1717.5,1145.1 1719.5,1145.2 1721.5,1145.3 1723.5,1145.4 1725.5,1145.4 1727.5,1145.5 1729.5,1145.6 1731.5,1145.7 1733.5,1145.8 1735.5,1145.9 1737.5,1146.0 1739.5,1146.0 1741.5,1146.1 1743.5,1146.2 1745.5,1146.3 1747.5,1146.4 1749.5,1146.4 1751.5,1146.5 1753.5,1146.6 1755.5,1146.7 1757.5,1146.8 1759.5,1146.8 1761.5,1146.9 1763.5,1147.0 1765.5,1147.1 1767.5,1147.1 1769.5,1147.2 1771.5,1147.3 1773.5,1147.4 1775.5,1147.5 1777.5,1147.6 1779.5,1147.6 1781.5,1147.7 1783.5,1147.8 1785.5,1147.9 1787.5,1148.0 1789.5,1148.1 1791.5,1148.2 1793.5,1148.3 1795.5,1148.4 1797.5,1148.5 1799.5,1148.6 1801.5,1148.7 1803.5,1148.8 1805.5,1148.9 1807.5,1149.1 1809.5,1149.2 1811.5,1149.3 1813.5,1149.4 1815.5,1149.6 1817.5,1149.7 1819.5,1149.8 1821.5,1150.0 1823.5,1150.1 1825.5,1150.3 1827.5,1150.4 1829.5,1150.6 1831.5,1150.7 1833.5,1150.9 1835.5,1151.1 1837.5,1151.3 1839.5,1151.4 1841.5,1151.6 1843.0,1151.8" stroke="#ff0000"/>
<path d="M247.5,849.5 249.5,850.9 251.5,852.3 253.5,853.6 255.5,854.9 257.5,856.1 259.5,857.2 261.5,858.3 263.5,859.3 265.5,860.3 267.5,861.3 269.5,862.1 271.5,863.0 273.5,863.8 275.5,864.5 277.5,865.2 279.5,865.8 281.5,866.4 283.5,867.0 285.5,867.5 287.5,867.9 289.5,868.4 291.5,868.7 293.5,869.1 295.5,869.3 297.5,869.6 299.5,869.8 301.5,870.0 303.5,870.1 305.5,870.2 307.5,870.2 309.5,870.2 311.5,870.2 313.5,870.1 315.5,870.0 317.5,869.9 319.5,869.7 321.5,869.5 323.5,869.3 325.5,869.0 327.5,868.7 329.5,868.4 331.5,868.0 333.5,867.6 335.5,867.2 337.5,866.7 339.5,866.2 341.5,865.7 343.5,865.2 345.5,864.6 347.5,864.1 349.5,863.5 351.5,862.8 353.5,862.2 355.5,861.5 357.5,860.8 359.5,860.1 361.5,859.3 363.5,858.5 365.5,857.8 367.5,857.0 369.5,856.1 371.5,855.3 373.5,854.4 375.5,853.6 377.5,852.7 379.5,851.8 381.5,850.9 383.5,849.9 385.5,849.0 387.5,848.0 389.5,847.1 391.5,846.1 393.5,845.1 395.5,844.1 397.5,843.0 399.5,842.0 401.5,840.9 403.5,839.9 405.5,838.8 407.5,837.7 409.5,836.6 411.5,835.5 413.5,834.4 415.5,833.2 417.5,832.1 419.5,830.9 421.5,829.8 423.5,828.6 425.5,827.4 427.5,826.2 429.5,825.0 431.5,823.8 433.5,822.5 435.5,821.3 437.5,820.0 439.5,818.8 441.5,817.5 443.5,816.2 445.5,815.0 447.5,813.7 449.5,812.4 451.5,811.0 453.5,809.7 455.5,808.4 457.5,807.1 459.5,805.7 461.5,804.4 463.5,803.0 465.5,801.7 467.5,800.3 469.5,798.9 471.5,797.5 473.5,796.2 475.5,794.8 477.5,793.4 479.5,792.0 481.5,790.6 483.5,789.2 485.5,787.7 487.5,786.3 489.5,784.9 491.5,783.5 493.5,782.0 495.5,780.6 497.5,779.1 499.5,777.7 501.5,776.2 503.5,774.8 505.5,773.3 507.5,771.9 509.5,770.4 511.5,769.0 513.5,767.5 515.5,766.0 517.5,764.5 519.5,763.1 521.5,761.6 523.5,760.1 525.5,758.7 527.5,757.2 529.5,755.7 531.5,754.2 533.5,752.7 535.5,751.2 537.5,749.8 539.5,748.3 541.5,746.8 543.5,745.3 545.5,743.8 547.5,742.3 549.5,740.8 551.5,739.3 553.5,737.7 555.5,736.2 557.5,734.7 559.5,733.2 561.5,731.7 563.5,730.1 565.5,728.6 567.5,727.1 569.5,725.6 571.5,724.0 573.5,722.5 575.5,720.9 577.5,719.4 579.5,717.8 581.5,716.3 583.5,714.7 585.5,713.1 587.5,711.6 589.5,710.0 591.5,708.4 593.5,706.8 595.5,705.2 597.5,703.6 599.5,702.0 601.5,700.4 603.5,698.8 605.5,697.2 607.5,695.6 609.5,694.0 611.5,692.4 613.5,690.7 615.5,689.1 617.5,687.4 619.5,685.8 621.5,684.1 623.5,682.5 625.5,680.8 627.5,679.1 629.5,677.5 631.5,675.8 633.5,674.1 635.5,672.4 637.5,670.7 639.5,669.0 641.5,667.3 643.5,665.6 645.5,663.8 647.5,662.1 649.5,660.4 651.5,658.6 653.5,656.9 655.5,655.1 657.5,653.4 659.5,651.6 661.5,649.8 663.5,648.0 665.5,646.2 667.5,644.4 669.5,642.6 671.5,640.8 673.5,639.0 675.5,637.1 677.5,635.3 679.5,633.5 681.5,631.6 683.5,629.7 685.5,627.9 687.5,626.0 689.5,624.1 691.5,622.2 693.5,620.3 695.5,618.4 697.5,616.5 699.5,614.6 701.5,612.6 703.5,610.7 705.5,608.7 707.5,606.8 709.5,604.8 711.5,602.8 713.5,600.8 715.5,598.8 717.5,596.8 719.5,594.8 721.5,592.8 723.5,590.8 725.5,588.8 727.5,586.7 729.5,584.7 731.5,582.7 733.5,580.7 735.5,578.6 737.5,576.6 739.5,574.6 741.5,572.6 743.5,570.5 745.5,568.5 747.5,566.5 749.5,564.5 751.5,562.5 753.5,560.5 755.5,558.5 757.5,556.5 759.5,554.5 761.5,552.6 763.5,550.6 765.5,548.7 767.5,546.8 769.5,544.9 771.5,542.9 773.5,541.1 775.5,539.2 777.5,537.3 779.5,535.5 781.5,533.7 783.5,531.9 785.5,530.1 787.5,528.3 789.5,526.6 791.5,524.8 793.5,523.1 795.5,521.5 797.5,519.8 799.5,518.2 801.5,516.6 803.5,515.0 805.5,513.4 807.5,511.9 809.5,510.4 811.5,508.9 813.5,507.5 815.5,506.1 817.5,504.7 819.5,503.3 821.5,502.0 823.5,500.7 825.5,499.5 827.5,498.2 829.5,497.0 831.5,495.9 833.5,494.7 835.5,493.6 837.5,492.5 839.5,491.5 841.5,490.5 843.5,489.5 845.5,488.6 847.5,487.7 849.5,486.8 851.5,485.9 853.5,485.1 855.5,484.3 857.5,483.6 859.5,482.8 861.5,482.1 863.5,481.5 865.5,480.8 867.5,480.2 869.5,479.7 871.5,479.2 873.5,478.7 875.5,478.2 877.5,477.8 879.5,477.4 881.5,477.0 883.5,476.6 885.5,476.3 887.5,476.1 889.5,475.8 891.5,475.6 893.5,475.5 895.5,475.3 897.5,475.2 899.5,475.1 901.5,475.1 903.5,475.1 905.5,475.1 907.5,475.2 909.5,475.3 911.5,475.4 913.5,475.6 915.5,475.7 917.5,476.0 919.5,476.2 921.5,476.5 923.5,476.9 925.5,477.2 927.5,477.6 929.5,478.0 931.5,478.5 933.5,479.0 935.5,479.5 937.5,480.1 939.5,480.7 941.5,481.4 943.5,482.0 945.5,482.7 947.5,483.5 949.5,484.2 951.5,485.0 953.5,485.9 955.5,486.8 957.5,487.7 959.5,488.6 961.5,489.6 963.5,490.6 965.5,491.7 967.5,492.8 969.5,493.9 971.5,495.1 973.5,496.3 975.5,497.5 977.5,498.7 979.5,500.0 981.5,501.4 983.5,502.8 985.5,504.2 987.5,505.6 989.5,507.1 991.5,508.6 993.5,510.2 995.5,511.7 997.5,513.4 999.5,515.0 1001.5,516.7 1003.5,518.4 1005.5,520.2 1007.5,522.0 1009.5,523.8 1011.5,525.6 1013.5,527.5 1015.5,529.4 1017.5,531.4 1019.5,533.4 1021.5,535.4 1023.5,537.4 1025.5,539.5 1027.5,541.6 1029.5,543.7 1031.5,545.9 1033.5,548.0 1035.5,550.2 1037.5,552.5 1039.5,554.7 1041.5,557.0 1043.5,559.3 1045.5,561.7 1047.5,564.1 1049.5,566.4 1051.5,568.9 1053.5,571.3 1055.5,573.8 1057.5,576.2 1059.5,578.8 1061.5,581.3 1063.5,583.8 1065.5,586.4 1067.5,589.0 1069.5,591.6 1071.5,594.3 1073.5,596.9 1075.5,599.6 1077.5,602.3 1079.5,605.0 1081.5,607.7 1083.5,610.5 1085.5,613.3 1087.5,616.1 1089.5,618.9 1091.5,621.7 1093.5,624.5 1095.5,627.4 1097.5,630.2 1099.5,633.1 1101.5,636.0 1103.5,638.9 1105.5,641.9 1107.5,644.8 1109.5,647.8 1111.5,650.7 1113.5,653.7 1115.5,656.7 1117.5,659.7 1119.5,662.7 1121.5,665.8 1123.5,668.8 1125.5,671.8 1127.5,674.9 1129.5,678.0 1131.5,681.0 1133.5,684.1 1135.5,687.2 1137.5,690.3 1139.5,693.4 1141.5,696.5 1143.5,699.7 1145.5,702.8 1147.5,705.9 1149.5,709.0 1151.5,712.2 1153.5,715.3 1155.5,718.5 1157.5,721.7 1159.5,724.8 1161.5,728.0 1163.5,731.1 1165.5,734.3 1167.5,737.5 1169.5,740.7 1171.5,743.8 1173.5,747.0 1175.5,750.2 1177.5,753.4 1179.5,756.6 1181.5,759.7 1183.5,762.9 1185.5,766.1 1187.5,769.3 1189.5,772.5 1191.5,775.6 1193.5,778.8 1195.5,782.0 1197.5,785.2 1199.5,788.3 1201.5,791.5 1203.5,794.7 1205.5,797.8 1207.5,801.0 1209.5,804.1 1211.5,807.3 1213.5,810.4 1215.5,813.6 1217.5,816.7 1219.5,819.8 1221.5,822.9 1223.5,826.0 1225.5,829.1 1227.5,832.2 1229.5,835.3 1231.5,838.4 1233.5,841.5 1235.5,844.6 1237.5,847.6 1239.5,850.7 1241.5,853.7 1243.5,856.7 1245.5,859.8 1247.5,862.8 1249.5,865.8 1251.5,868.8 1253.5,871.7 1255.5,874.7 1257.5,877.6 1259.5,880.6 1261.5,883.5 1263.5,886.4 1265.5,889.3 1267.5,892.2 1269.5,895.1 1271.5,898.0 1273.5,900.8 1275.5,903.6 1277.5,906.4 1279.5,909.2 1281.5,912.0 1283.5,914.8 1285.5,917.6 1287.5,920.3 1289.5,923.0 1291.5,925.7 1293.5,928.4 1295.5,931.0 1297.5,933.7 1299.5,936.3 1301.5,938.9 1303.5,941.5 1305.5,944.1 1307.5,946.6 1309.5,949.2 1311.5,951.7 1313.5,954.2 1315.5,956.6 1317.5,959.1 1319.5,961.5 1321.5,964.0 1323.5,966.4 1325.5,968.7 1327.5,971.1 1329.5,973.4 1331.5,975.8 1333.5,978.1 1335.5,980.3 1337.5,982.6 1339.5,984.8 1341.5,987.1 1343.5,989.3 1345.5,991.5 1347.5,993.6 1349.5,995.8 1351.5,997.9 1353.5,1000.0 1355.5,1002.1 1357.5,1004.2 1359.5,1006.3 1361.5,1008.3 1363.5,1010.3 1365.5,1012.3 1367.5,1014.3 1369.5,1016.3 1371.5,1018.2 1373.5,1020.1 1375.5,1022.0 1377.5,1023.9 1379.5,1025.8 1381.5,1027.6 1383.5,1029.5 1385.5,1031.3 1387.5,1033.1 1389.5,1034.9 1391.5,1036.6 1393.5,1038.3 1395.5,1040.1 1397.5,1041.8 1399.5,1043.5 1401.5,1045.1 1403.5,1046.8 1405.5,1048.4 1407.5,1050.0 1409.5,1051.6 1411.5,1053.1 1413.5,1054.7 1415.5,1056.2 1417.5,1057.7 1419.5,1059.2 1421.5,1060.7 1423.5,1062.2 1425.5,1063.6 1427.5,1065.0 1429.5,1066.4 1431.5,1067.8 1433.5,1069.2 1435.5,1070.6 1437.5,1071.9 1439.5,1073.2 1441.5,1074.5 1443.5,1075.8 1445.5,1077.0 1447.5,1078.3 1449.5,1079.5 1451.5,1080.7 1453.5,1081.9 1455.5,1083.1 1457.5,1084.3 1459.5,1085.4 1461.5,1086.6 1463.5,1087.7 1465.5,1088.8 1467.5,1089.9 1469.5,1090.9 1471.5,1092.0 1473.5,1093.0 1475.5,1094.0 1477.5,1095.0 1479.5,1096.0 1481.5,1097.0 1483.5,1098.0 1485.5,1098.9 1487.5,1099.9 1489.5,1100.8 1491.5,1101.7 1493.5,1102.6 1495.5,1103.4 1497.5,1104.3 1499.5,1105.1 1501.5,1106.0 1503.5,1106.8 1505.5,1107.6 1507.5,1108.4 1509.5,1109.2 1511.5,1109.9 1513.5,1110.7 1515.5,1111.4 1517.5,1112.2 1519.5,1112.9 1521.5,1113.6 1523.5,1114.3 1525.5,1115.0 1527.5,1115.6 1529.5,1116.3 1531.5,1116.9 1533.5,1117.5 1535.5,1118.2 1537.5,1118.8 1539.5,1119.4 1541.5,1120.0 1543.5,1120.5 1545.5,1121.1 1547.5,1121.6 1549.5,1122.2 1551.5,1122.7 1553.5,1123.2 1555.5,1123.7 1557.5,1124.2 1559.5,1124.7 1561.5,1125.2 1563.5,1125.7 1565.5,1126.1 1567.5,1126.6 1569.5,1127.0 1571.5,1127.4 1573.5,1127.8 1575.5,1128.3 1577.5,1128.7 1579.5,1129.0 1581.5,1129.4 1583.5,1129.8 1585.5,1130.2 1587.5,1130.5 1589.5,1130.9 1591.5,1131.2 1593.5,1131.5 1595.5,1131.9 1597.5,1132.2 1599.5,1132.5 1601.5,1132.8 1603.5,1133.1 1605.5,1133.4 1607.5,1133.6 1609.5,1133.9 1611.5,1134.2 1613.5,1134.4 1615.5,1134.7 1617.5,1134.9 1619.5,1135.1 1621.5,1135.4 1623.5,1135.6 1625.5,1135.8 1627.5,1136.0 1629.5,1136.2 1631.5,1136.4 1633.5,1136.6 1635.5,1136.8 1637.5,1137.0 1639.5,1137.1 1641.5,1137.3 1643.5,1137.5 1645.5,1137.6 1647.5,1137.8 1649.5,1137.9 1651.5,1138.1 1653.5,1138.2 1655.5,1138.3 1657.5,1138.5 1659.5,1138.6 1661.5,1138.7 1663.5,1138.8 1665.5,1139.0 1667.5,1139.1 1669.5,1139.2 1671.5,1139.3 1673.5,1139.4 1675.5,1139.5 1677.5,1139.6 1679.5,1139.7 1681.5,1139.7 1683.5,1139.8 1685.5,1139.9 1687.5,1140.0 1689.5,1140.1 1691.5,1140.1 1693.5,1140.2 1695.5,1140.3 1697.5,1140.3 1699.5,1140.4 1701.5,1140.5 1703.5,1140.5 1705.5,1140.6 1707.5,1140.7 1709.5,1140.7 1711.5,1140.8 1713.5,1140.8 1715.5,1140.9 1717.5,1140.9 1719.5,1141.0 1721.5,1141.0 1723.5,1141.1 1725.5,1141.1 1727.5,1141.2 1729.5,1141.2 1731.5,1141.3 1733.5,1141.3 1735.5,1141.4 1737.5,1141.4 1739.5,1141.5 1741.5,1141.6 1743.5,1141.6 1745.5,1141.7 1747.5,1141.7 1749.5,1141.8 1751.5,1141.8 1753.5,1141.9 1755.5,1142.0 1757.5,1142.0 1759.5,1142.1 1761.5,1142.2 1763.5,1142.2 1765.5,1142.3 1767.5,1142.4 1769.5,1142.4 1771.5,1142.5 1773.5,1142.6 1775.5,1142.7 1777.5,1142.8 1779.5,1142.9 1781.5,1142.9 1783.5,1143.0 1785.5,1143.1 1787.5,1143.2 1789.5,1143.3 1791.5,1143.4 1793.5,1143.6 1795.5,1143.7 1797.5,1143.8 1799.5,1143.9 1801.5,1144.0 1803.5,1144.2 1805.5,1144.3 1807.5,1144.5 1809.5,1144.6 1811.5,1144.8 1813.5,1144.9 1815.5,1145.1 1817.5,1145.2 1819.5,1145.4 1821.5,1145.6 1823.5,1145.8 1825.5,1146.0 1827.5,1146.2 1829.5,1146.4 1831.5,1146.6 1833.5,1146.8 1835.5,1147.0 1837.5,1147.2 1839.5,1147.5 1841.5,1147.7 1843.0,1147.9" stroke="#0000ff"/>
<path d="M247.5,969.9 249.5,970.5 251.5,971.1 253.5,971.7 255.5,972.3 257.5,972.8 259.5,973.3 261.5,973.8 263.5,974.3 265.5,974.8 267.5,975.2 269.5,975.7 271.5,976.1 273.5,976.5 275.5,976.8 277.5,977.2 279.5,977.5 281.5,977.8 283.5,978.1 285.5,978.4 287.5,978.6 289.5,978.9 291.5,979.1 293.5,979.3 295.5,979.5 297.5,979.6 299.5,979.8 301.5,979.9 303.5,980.0 305.5,980.1 307.5,980.2 309.5,980.3 311.5,980.3 313.5,980.4 315.5,980.4 317.5,980.4 319.5,980.4 321.5,980.3 323.5,980.3 325.5,980.2 327.5,980.2 329.5,980.1 331.5,980.0 333.5,979.8 335.5,979.7 337.5,979.6 339.5,979.4 341.5,979.2 343.5,979.0 345.5,978.8 347.5,978.6 349.5,978.4 351.5,978.1 353.5,977.9 355.5,977.6 357.5,977.3 359.5,977.0 361.5,976.7 363.5,976.4 365.5,976.1 367.5,975.7 369.5,975.4 371.5,975.0 373.5,974.6 375.5,974.3 377.5,973.9 379.5,973.4 381.5,973.0 383.5,972.6 385.5,972.2 387.5,971.7 389.5,971.2 391.5,970.8 393.5,970.3 395.5,969.8 397.5,969.3 399.5,968.8 401.5,968.3 403.5,967.8 405.5,967.2 407.5,966.7 409.5,966.1 411.5,965.6 413.5,965.0 415.5,964.4 417.5,963.8 419.5,963.3 421.5,962.7 423.5,962.0 425.5,961.4 427.5,960.8 429.5,960.2 431.5,959.6 433.5,958.9 435.5,958.3 437.5,957.6 439.5,957.0 441.5,956.3 443.5,955.6 445.5,955.0 447.5,954.3 449.5,953.6 451.5,952.9 453.5,952.2 455.5,951.5 457.5,950.8 459.5,950.1 461.5,949.4 463.5,948.7 465.5,947.9 467.5,947.2 469.5,946.5 471.5,945.8 473.5,945.0 475.5,944.3 477.5,943.5 479.5,942.8 481.5,942.0 483.5,941.3 485.5,940.5 487.5,939.8 489.5,939.0 491.5,938.2 493.5,937.4 495.5,936.7 497.5,935.9 499.5,935.1 501.5,934.3 503.5,933.5 505.5,932.7 507.5,931.9 509.5,931.1 511.5,930.3 513.5,929.5 515.5,928.7 517.5,927.9 519.5,927.0 521.5,926.2 523.5,925.4 525.5,924.6 527.5,923.7 529.5,922.9 531.5,922.0 533.5,921.2 535.5,920.3 537.5,919.5 539.5,918.6 541.5,917.8 543.5,916.9 545.5,916.0 547.5,915.2 549.5,914.3 551.5,913.4 553.5,912.5 555.5,911.7 557.5,910.8 559.5,909.9 561.5,909.0 563.5,908.1 565.5,907.2 567.5,906.3 569.5,905.4 571.5,904.5 573.5,903.6 575.5,902.7 577.5,901.8 579.5,900.9 581.5,899.9 583.5,899.0 585.5,898.1 587.5,897.2 589.5,896.2 591.5,895.3 593.5,894.4 595.5,893.4 597.5,892.5 599.5,891.5 601.5,890.6 603.5,889.6 605.5,888.7 607.5,887.7 609.5,886.8 611.5,885.8 613.5,884.8 615.5,883.9 617.5,882.9 619.5,881.9 621.5,881.0 623.5,880.0 625.5,879.0 627.5,878.0 629.5,877.0 631.5,876.1 633.5,875.1 635.5,874.1 637.5,873.1 639.5,872.1 641.5,871.1 643.5,870.1 645.5,869.1 647.5,868.1 649.5,867.1 651.5,866.1 653.5,865.1 655.5,864.1 657.5,863.1 659.5,862.0 661.5,861.0 663.5,860.0 665.5,859.0 667.5,858.0 669.5,856.9 671.5,855.9 673.5,854.9 675.5,853.8 677.5,852.8 679.5,851.8 681.5,850.7 683.5,849.7 685.5,848.7 687.5,847.6 689.5,846.6 691.5,845.5 693.5,844.5 695.5,843.4 697.5,842.4 699.5,841.3 701.5,840.3 703.5,839.2 705.5,838.2 707.5,837.1 709.5,836.1 711.5,835.0 713.5,834.0 715.5,832.9 717.5,831.9 719.5,830.8 721.5,829.8 723.5,828.7 725.5,827.7 727.5,826.7 729.5,825.6 731.5,824.6 733.5,823.6 735.5,822.5 737.5,821.5 739.5,820.5 741.5,819.5 743.5,818.4 745.5,817.4 747.5,816.4 749.5,815.4 751.5,814.4 753.5,813.4 755.5,812.4 757.5,811.5 759.5,810.5 761.5,809.5 763.5,808.5 765.5,807.6 767.5,806.6 769.5,805.7 771.5,804.7 773.5,803.8 775.5,802.9 777.5,802.0 779.5,801.0 781.5,800.1 783.5,799.2 785.5,798.4 787.5,797.5 789.5,796.6 791.5,795.7 793.5,794.9 795.5,794.0 797.5,793.2 799.5,792.4 801.5,791.6 803.5,790.8 805.5,790.0 807.5,789.2 809.5,788.4 811.5,787.7 813.5,786.9 815.5,786.2 817.5,785.4 819.5,784.7 821.5,784.0 823.5,783.3 825.5,782.6 827.5,782.0 829.5,781.3 831.5,780.7 833.5,780.1 835.5,779.4 837.5,778.8 839.5,778.3 841.5,777.7 843.5,777.1 845.5,776.6 847.5,776.1 849.5,775.5 851.5,775.0 853.5,774.6 855.5,774.1 857.5,773.6 859.5,773.2 861.5,772.8 863.5,772.4 865.5,772.0 867.5,771.6 869.5,771.3 871.5,770.9 873.5,770.6 875.5,770.3 877.5,770.1 879.5,769.8 881.5,769.5 883.5,769.3 885.5,769.1 887.5,768.9 889.5,768.8 891.5,768.6 893.5,768.5 895.5,768.4 897.5,768.3 899.5,768.2 901.5,768.2 903.5,768.1 905.5,768.1 907.5,768.1 909.5,768.2 911.5,768.2 913.5,768.3 915.5,768.4 917.5,768.5 919.5,768.6 921.5,768.8 923.5,769.0 925.5,769.2 927.5,769.4 929.5,769.6 931.5,769.9 933.5,770.1 935.5,770.4 937.5,770.7 939.5,771.1 941.5,771.4 943.5,771.8 945.5,772.2 947.5,772.6 949.5,773.0 951.5,773.5 953.5,773.9 955.5,774.4 957.5,774.9 959.5,775.5 961.5,776.0 963.5,776.6 965.5,777.2 967.5,777.8 969.5,778.4 971.5,779.0 973.5,779.7 975.5,780.4 977.5,781.1 979.5,781.8 981.5,782.5 983.5,783.3 985.5,784.0 987.5,784.8 989.5,785.6 991.5,786.5 993.5,787.3 995.5,788.2 997.5,789.0 999.5,789.9 1001.5,790.9 1003.5,791.8 1005.5,792.7 1007.5,793.7 1009.5,794.7 1011.5,795.7 1013.5,796.7 1015.5,797.8 1017.5,798.8 1019.5,799.9 1021.5,801.0 1023.5,802.1 1025.5,803.3 1027.5,804.4 1029.5,805.6 1031.5,806.8 1033.5,808.0 1035.5,809.2 1037.5,810.4 1039.5,811.7 1041.5,812.9 1043.5,814.2 1045.5,815.5 1047.5,816.8 1049.5,818.2 1051.5,819.5 1053.5,820.9 1055.5,822.2 1057.5,823.6 1059.5,825.0 1061.5,826.5 1063.5,827.9 1065.5,829.3 1067.5,830.8 1069.5,832.3 1071.5,833.7 1073.5,835.2 1075.5,836.7 1077.5,838.2 1079.5,839.8 1081.5,841.3 1083.5,842.9 1085.5,844.4 1087.5,846.0 1089.5,847.6 1091.5,849.2 1093.5,850.8 1095.5,852.4 1097.5,854.0 1099.5,855.6 1101.5,857.3 1103.5,858.9 1105.5,860.6 1107.5,862.3 1109.5,863.9 1111.5,865.6 1113.5,867.3 1115.5,869.0 1117.5,870.7 1119.5,872.4 1121.5,874.1 1123.5,875.8 1125.5,877.6 1127.5,879.3 1129.5,881.0 1131.5,882.8 1133.5,884.5 1135.5,886.3 1137.5,888.0 1139.5,889.8 1141.5,891.6 1143.5,893.3 1145.5,895.1 1147.5,896.9 1149.5,898.6 1151.5,900.4 1153.5,902.2 1155.5,904.0 1157.5,905.8 1159.5,907.6 1161.5,909.4 1163.5,911.1 1165.5,912.9 1167.5,914.7 1169.5,916.5 1171.5,918.3 1173.5,920.1 1175.5,921.9 1177.5,923.7 1179.5,925.5 1181.5,927.3 1183.5,929.1 1185.5,930.8 1187.5,932.6 1189.5,934.4 1191.5,936.2 1193.5,938.0 1195.5,939.7 1197.5,941.5 1199.5,943.3 1201.5,945.1 1203.5,946.8 1205.5,948.6 1207.5,950.3 1209.5,952.1 1211.5,953.8 1213.5,955.6 1215.5,957.3 1217.5,959.0 1219.5,960.7 1221.5,962.5 1223.5,964.2 1225.5,965.9 1227.5,967.6 1229.5,969.3 1231.5,971.0 1233.5,972.7 1235.5,974.3 1237.5,976.0 1239.5,977.7 1241.5,979.3 1243.5,981.0 1245.5,982.6 1247.5,984.3 1249.5,985.9 1251.5,987.5 1253.5,989.2 1255.5,990.8 1257.5,992.4 1259.5,994.0 1261.5,995.6 1263.5,997.2 1265.5,998.8 1267.5,1000.3 1269.5,1001.9 1271.5,1003.5 1273.5,1005.0 1275.5,1006.6 1277.5,1008.1 1279.5,1009.6 1281.5,1011.1 1283.5,1012.7 1285.5,1014.2 1287.5,1015.7 1289.5,1017.2 1291.5,1018.6 1293.5,1020.1 1295.5,1021.6 1297.5,1023.0 1299.5,1024.5 1301.5,1025.9 1303.5,1027.4 1305.5,1028.8 1307.5,1030.2 1309.5,1031.6 1311.5,1033.0 1313.5,1034.4 1315.5,1035.8 1317.5,1037.1 1319.5,1038.5 1321.5,1039.9 1323.5,1041.2 1325.5,1042.5 1327.5,1043.9 1329.5,1045.2 1331.5,1046.5 1333.5,1047.8 1335.5,1049.1 1337.5,1050.4 1339.5,1051.6 1341.5,1052.9 1343.5,1054.1 1345.5,1055.4 1347.5,1056.6 1349.5,1057.8 1351.5,1059.0 1353.5,1060.2 1355.5,1061.4 1357.5,1062.6 1359.5,1063.7 1361.5,1064.9 1363.5,1066.0 1365.5,1067.2 1367.5,1068.3 1369.5,1069.4 1371.5,1070.5 1373.5,1071.6 1375.5,1072.7 1377.5,1073.7 1379.5,1074.8 1381.5,1075.8 1383.5,1076.9 1385.5,1077.9 1387.5,1078.9 1389.5,1079.9 1391.5,1080.9 1393.5,1081.9 1395.5,1082.8 1397.5,1083.8 1399.5,1084.7 1401.5,1085.7 1403.5,1086.6 1405.5,1087.5 1407.5,1088.4 1409.5,1089.3 1411.5,1090.2 1413.5,1091.1 1415.5,1091.9 1417.5,1092.8 1419.5,1093.6 1421.5,1094.5 1423.5,1095.3 1425.5,1096.1 1427.5,1096.9 1429.5,1097.7 1431.5,1098.5 1433.5,1099.3 1435.5,1100.0 1437.5,1100.8 1439.5,1101.5 1441.5,1102.3 1443.5,1103.0 1445.5,1103.7 1447.5,1104.4 1449.5,1105.1 1451.5,1105.8 1453.5,1106.5 1455.5,1107.2 1457.5,1107.9 1459.5,1108.5 1461.5,1109.2 1463.5,1109.8 1465.5,1110.4 1467.5,1111.1 1469.5,1111.7 1471.5,1112.3 1473.5,1112.9 1475.5,1113.5 1477.5,1114.1 1479.5,1114.6 1481.5,1115.2 1483.5,1115.8 1485.5,1116.3 1487.5,1116.9 1489.5,1117.4 1491.5,1117.9 1493.5,1118.5 1495.5,1119.0 1497.5,1119.5 1499.5,1120.0 1501.5,1120.5 1503.5,1120.9 1505.5,1121.4 1507.5,1121.9 1509.5,1122.4 1511.5,1122.8 1513.5,1123.3 1515.5,1123.7 1517.5,1124.1 1519.5,1124.6 1521.5,1125.0 1523.5,1125.4 1525.5,1125.8 1527.5,1126.2 1529.5,1126.6 1531.5,1127.0 1533.5,1127.4 1535.5,1127.7 1537.5,1128.1 1539.5,1128.5 1541.5,1128.8 1543.5,1129.2 1545.5,1129.5 1547.5,1129.9 1549.5,1130.2 1551.5,1130.5 1553.5,1130.8 1555.5,1131.2 1557.5,1131.5 1559.5,1131.8 1561.5,1132.1 1563.5,1132.4 1565.5,1132.7 1567.5,1132.9 1569.5,1133.2 1571.5,1133.5 1573.5,1133.8 1575.5,1134.0 1577.5,1134.3 1579.5,1134.5 1581.5,1134.8 1583.5,1135.0 1585.5,1135.3 1587.5,1135.5 1589.5,1135.7 1591.5,1136.0 1593.5,1136.2 1595.5,1136.4 1597.5,1136.6 1599.5,1136.8 1601.5,1137.0 1603.5,1137.2 1605.5,1137.4 1607.5,1137.6 1609.5,1137.8 1611.5,1138.0 1613.5,1138.2 1615.5,1138.3 1617.5,1138.5 1619.5,1138.7 1621.5,1138.8 1623.5,1139.0 1625.5,1139.2 1627.5,1139.3 1629.5,1139.5 1631.5,1139.6 1633.5,1139.8 1635.5,1139.9 1637.5,1140.0 1639.5,1140.2 1641.5,1140.3 1643.5,1140.4 1645.5,1140.6 1647.5,1140.7 1649.5,1140.8 1651.5,1140.9 1653.5,1141.0 1655.5,1141.1 1657.5,1141.3 1659.5,1141.4 1661.5,1141.5 1663.5,1141.6 1665.5,1141.7 1667.5,1141.8 1669.5,1141.9 1671.5,1142.0 1673.5,1142.1 1675.5,1142.2 1677.5,1142.2 1679.5,1142.3 1681.5,1142.4 1683.5,1142.5 1685.5,1142.6 1687.5,1142.7 1689.5,1142.8 1691.5,1142.8 1693.5,1142.9 1695.5,1143.0 1697.5,1143.1 1699.5,1143.1 1701.5,1143.2 1703.5,1143.3 1705.5,1143.4 1707.5,1143.4 1709.5,1143.5 1711.5,1143.6 1713.5,1143.6 1715.5,1143.7 1717.5,1143.8 1719.5,1143.8 1721.5,1143.9 1723.5,1144.0 1725.5,1144.0 1727.5,1144.1 1729.5,1144.2 1731.5,1144.2 1733.5,1144.3 1735.5,1144.3 1737.5,1144.4 1739.5,1144.5 1741.5,1144.5 1743.5,1144.6 1745.5,1144.7 1747.5,1144.7 1749.5,1144.8 1751.5,1144.9 1753.5,1144.9 1755.5,1145.0 1757.5,1145.1 1759.5,1145.1 1761.5,1145.2 1763.5,1145.3 1765.5,1145.4 1767.5,1145.4 1769.5,1145.5 1771.5,1145.6 1773.5,1145.7 1775.5,1145.7 1777.5,1145.8 1779.5,1145.9 1781.5,1146.0 1783.5,1146.1 1785.5,1146.1 1787.5,1146.2 1789.5,1146.3 1791.5,1146.4 1793.5,1146.5 1795.5,1146.6 1797.5,1146.7 1799.5,1146.8 1801.5,1146.9 1803.5,1147.0 1805.5,1147.1 1807.5,1147.2 1809.5,1147.3 1811.5,1147.4 1813.5,1147.5 1815.5,1147.6 1817.5,1147.8 1819.5,1147.9 1821.5,1148.0 1823.5,1148.1 1825.5,1148.3 1827.5,1148.4 1829.5,1148.5 1831.5,1148.7 1833.5,1148.8 1835.5,1149.0 1837.5,1149.1 1839.5,1149.3 1841.5,1149.4 1843.0,1149.5" stroke="#ff00ff"/>
<path d="M247.5,1104.2 249.5,1105.1 251.5,1106.0 253.5,1106.8 255.5,1107.6 257.5,1108.3 259.5,1109.1 261.5,1109.8 263.5,1110.4 265.5,1111.1 267.5,1111.7 269.5,1112.3 271.5,1112.9 273.5,1113.4 275.5,1113.9 277.5,1114.4 279.5,1114.9 281.5,1115.3 283.5,1115.7 285.5,1116.1 287.5,1116.5 289.5,1116.9 291.5,1117.2 293.5,1117.5 295.5,1117.8 297.5,1118.0 299.5,1118.3 301.5,1118.5 303.5,1118.7 305.5,1118.8 307.5,1119.0 309.5,1119.1 311.5,1119.3 313.5,1119.4 315.5,1119.4 317.5,1119.5 319.5,1119.5 321.5,1119.6 323.5,1119.6 325.5,1119.6 327.5,1119.6 329.5,1119.5 331.5,1119.5 333.5,1119.4 335.5,1119.3 337.5,1119.2 339.5,1119.1 341.5,1119.0 343.5,1118.9 345.5,1118.7 347.5,1118.6 349.5,1118.4 351.5,1118.2 353.5,1118.0 355.5,1117.8 357.5,1117.6 359.5,1117.4 361.5,1117.1 363.5,1116.9 365.5,1116.6 367.5,1116.4 369.5,1116.1 371.5,1115.8 373.5,1115.5 375.5,1115.2 377.5,1114.9 379.5,1114.6 381.5,1114.3 383.5,1114.0 385.5,1113.7 387.5,1113.3 389.5,1113.0 391.5,1112.7 393.5,1112.3 395.5,1112.0 397.5,1111.6 399.5,1111.2 401.5,1110.9 403.5,1110.5 405.5,1110.1 407.5,1109.7 409.5,1109.3 411.5,1108.9 413.5,1108.5 415.5,1108.1 417.5,1107.7 419.5,1107.3 421.5,1106.9 423.5,1106.5 425.5,1106.0 427.5,1105.6 429.5,1105.2 431.5,1104.7 433.5,1104.3 435.5,1103.8 437.5,1103.4 439.5,1102.9 441.5,1102.5 443.5,1102.0 445.5,1101.5 447.5,1101.1 449.5,1100.6 451.5,1100.1 453.5,1099.6 455.5,1099.1 457.5,1098.7 459.5,1098.2 461.5,1097.7 463.5,1097.2 465.5,1096.7 467.5,1096.2 469.5,1095.7 471.5,1095.1 473.5,1094.6 475.5,1094.1 477.5,1093.6 479.5,1093.1 481.5,1092.6 483.5,1092.0 485.5,1091.5 487.5,1091.0 489.5,1090.5 491.5,1089.9 493.5,1089.4 495.5,1088.9 497.5,1088.3 499.5,1087.8 501.5,1087.3 503.5,1086.7 505.5,1086.2 507.5,1085.6 509.5,1085.1 511.5,1084.5 513.5,1084.0 515.5,1083.4 517.5,1082.9 519.5,1082.3 521.5,1081.8 523.5,1081.2 525.5,1080.7 527.5,1080.1 529.5,1079.5 531.5,1079.0 533.5,1078.4 535.5,1077.8 537.5,1077.3 539.5,1076.7 541.5,1076.1 543.5,1075.6 545.5,1075.0 547.5,1074.4 549.5,1073.8 551.5,1073.3 553.5,1072.7 555.5,1072.1 557.5,1071.5 559.5,1070.9 561.5,1070.3 563.5,1069.8 565.5,1069.2 567.5,1068.6 569.5,1068.0 571.5,1067.4 573.5,1066.8 575.5,1066.2 577.5,1065.6 579.5,1065.0 581.5,1064.4 583.5,1063.8 585.5,1063.2 587.5,1062.6 589.5,1062.0 591.5,1061.4 593.5,1060.7 595.5,1060.1 597.5,1059.5 599.5,1058.9 601.5,1058.3 603.5,1057.7 605.5,1057.0 607.5,1056.4 609.5,1055.8 611.5,1055.2 613.5,1054.6 615.5,1053.9 617.5,1053.3 619.5,1052.7 621.5,1052.0 623.5,1051.4 625.5,1050.8 627.5,1050.1 629.5,1049.5 631.5,1048.8 633.5,1048.2 635.5,1047.6 637.5,1046.9 639.5,1046.3 641.5,1045.6 643.5,1045.0 645.5,1044.3 647.5,1043.7 649.5,1043.0 651.5,1042.4 653.5,1041.7 655.5,1041.1 657.5,1040.4 659.5,1039.7 661.5,1039.1 663.5,1038.4 665.5,1037.7 667.5,1037.1 669.5,1036.4 671.5,1035.7 673.5,1035.1 675.5,1034.4 677.5,1033.7 679.5,1033.1 681.5,1032.4 683.5,1031.7 685.5,1031.0 687.5,1030.3 689.5,1029.7 691.5,1029.0 693.5,1028.3 695.5,1027.6 697.5,1026.9 699.5,1026.2 701.5,1025.5 703.5,1024.8 705.5,1024.2 707.5,1023.5 709.5,1022.8 711.5,1022.1 713.5,1021.4 715.5,1020.7 717.5,1020.0 719.5,1019.3 721.5,1018.6 723.5,1017.9 725.5,1017.1 727.5,1016.4 729.5,1015.7 731.5,1015.0 733.5,1014.3 735.5,1013.6 737.5,1012.9 739.5,1012.2 741.5,1011.4 743.5,1010.7 745.5,1010.0 747.5,1009.3 749.5,1008.5 751.5,1007.8 753.5,1007.1 755.5,1006.4 757.5,1005.7 759.5,1004.9 761.5,1004.2 763.5,1003.5 765.5,1002.8 767.5,1002.0 769.5,1001.3 771.5,1000.6 773.5,999.9 775.5,999.2 777.5,998.5 779.5,997.8 781.5,997.1 783.5,996.4 785.5,995.7 787.5,995.1 789.5,994.4 791.5,993.7 793.5,993.0 795.5,992.4 797.5,991.7 799.5,991.1 801.5,990.5 803.5,989.8 805.5,989.2 807.5,988.6 809.5,988.0 811.5,987.4 813.5,986.8 815.5,986.2 817.5,985.7 819.5,985.1 821.5,984.5 823.5,984.0 825.5,983.5 827.5,983.0 829.5,982.5 831.5,982.0 833.5,981.5 835.5,981.0 837.5,980.6 839.5,980.1 841.5,979.7 843.5,979.3 845.5,978.9 847.5,978.5 849.5,978.1 851.5,977.8 853.5,977.4 855.5,977.1 857.5,976.8 859.5,976.5 861.5,976.2 863.5,976.0 865.5,975.7 867.5,975.5 869.5,975.3 871.5,975.1 873.5,974.9 875.5,974.8 877.5,974.6 879.5,974.5 881.5,974.4 883.5,974.3 885.5,974.2 887.5,974.2 889.5,974.1 891.5,974.1 893.5,974.1 895.5,974.1 897.5,974.1 899.5,974.2 901.5,974.2 903.5,974.3 905.5,974.4 907.5,974.5 909.5,974.6 911.5,974.8 913.5,974.9 915.5,975.1 917.5,975.3 919.5,975.5 921.5,975.7 923.5,975.9 925.5,976.1 927.5,976.4 929.5,976.6 931.5,976.9 933.5,977.2 935.5,977.5 937.5,977.8 939.5,978.1 941.5,978.5 943.5,978.8 945.5,979.2 947.5,979.6 949.5,979.9 951.5,980.3 953.5,980.8 955.5,981.2 957.5,981.6 959.5,982.1 961.5,982.5 963.5,983.0 965.5,983.5 967.5,983.9 969.5,984.4 971.5,985.0 973.5,985.5 975.5,986.0 977.5,986.5 979.5,987.1 981.5,987.7 983.5,988.2 985.5,988.8 987.5,989.4 989.5,990.0 991.5,990.6 993.5,991.2 995.5,991.8 997.5,992.5 999.5,993.1 1001.5,993.8 1003.5,994.4 1005.5,995.1 1007.5,995.7 1009.5,996.4 1011.5,997.1 1013.5,997.8 1015.5,998.5 1017.5,999.2 1019.5,999.9 1021.5,1000.6 1023.5,1001.3 1025.5,1002.1 1027.5,1002.8 1029.5,1003.5 1031.5,1004.3 1033.5,1005.0 1035.5,1005.8 1037.5,1006.5 1039.5,1007.3 1041.5,1008.1 1043.5,1008.8 1045.5,1009.6 1047.5,1010.4 1049.5,1011.2 1051.5,1012.0 1053.5,1012.8 1055.5,1013.5 1057.5,1014.3 1059.5,1015.1 1061.5,1015.9 1063.5,1016.7 1065.5,1017.5 1067.5,1018.4 1069.5,1019.2 1071.5,1020.0 1073.5,1020.8 1075.5,1021.6 1077.5,1022.4 1079.5,1023.2 1081.5,1024.0 1083.5,1024.9 1085.5,1025.7 1087.5,1026.5 1089.5,1027.3 1091.5,1028.1 1093.5,1029.0 1095.5,1029.8 1097.5,1030.6 1099.5,1031.4 1101.5,1032.3 1103.5,1033.1 1105.5,1034.0 1107.5,1034.8 1109.5,1035.6 1111.5,1036.5 1113.5,1037.3 1115.5,1038.2 1117.5,1039.1 1119.5,1039.9 1121.5,1040.8 1123.5,1041.7 1125.5,1042.6 1127.5,1043.4 1129.5,1044.3 1131.5,1045.2 1133.5,1046.1 1135.5,1047.0 1137.5,1048.0 1139.5,1048.9 1141.5,1049.8 1143.5,1050.7 1145.5,1051.7 1147.5,1052.6 1149.5,1053.6 1151.5,1054.6 1153.5,1055.5 1155.5,1056.5 1157.5,1057.5 1159.5,1058.5 1161.5,1059.5 1163.5,1060.5 1165.5,1061.5 1167.5,1062.6 1169.5,1063.6 1171.5,1064.7 1172.5,1065.2 L1172.5,1066.0 1194.0,1067.0 1236.5,1069.7 1245.0,1072.5 1253.5,1067.0 1260.6,1069.7 1279.0,1079.7 1293.0,1088.0 1313.0,1104.0 1329.0,1106.0 1340.0,1107.0 1369.0,1109.5 1386.7,1113.0 1421.7,1115.3 1456.7,1122.3 1491.7,1128.2 1526.7,1132.8 1560.0,1137.0 1580.0,1140.0 1610.0,1143.5 1648.0,1146.5 1700.0,1148.8 1759.0,1150.7 1843.0,1153.5" stroke="#9a0000"/>
<path d="M247.5,796.2 249.5,798.1 251.5,800.1 253.5,801.9 255.5,803.6 257.5,805.3 259.5,806.9 261.5,808.4 263.5,809.9 265.5,811.3 267.5,812.5 269.5,813.8 271.5,814.9 273.5,816.0 275.5,817.0 277.5,817.9 279.5,818.8 281.5,819.6 283.5,820.4 285.5,821.0 287.5,821.7 289.5,822.2 291.5,822.7 293.5,823.1 295.5,823.5 297.5,823.8 299.5,824.1 301.5,824.3 303.5,824.4 305.5,824.5 307.5,824.5 309.5,824.5 311.5,824.4 313.5,824.3 315.5,824.1 317.5,823.9 319.5,823.7 321.5,823.4 323.5,823.0 325.5,822.6 327.5,822.2 329.5,821.7 331.5,821.2 333.5,820.6 335.5,820.0 337.5,819.4 339.5,818.7 341.5,818.0 343.5,817.2 345.5,816.4 347.5,815.6 349.5,814.8 351.5,813.9 353.5,813.0 355.5,812.1 357.5,811.1 359.5,810.1 361.5,809.1 363.5,808.1 365.5,807.0 367.5,805.9 369.5,804.8 371.5,803.7 373.5,802.6 375.5,801.4 377.5,800.2 379.5,799.0 381.5,797.8 383.5,796.6 385.5,795.4 387.5,794.1 389.5,792.9 391.5,791.6 393.5,790.3 395.5,789.0 397.5,787.7 399.5,786.4 401.5,785.1 403.5,783.8 405.5,782.5 407.5,781.2 409.5,779.9 411.5,778.5 413.5,777.2 415.5,775.9 417.5,774.5 419.5,773.2 421.5,771.8 423.5,770.4 425.5,769.1 427.5,767.7 429.5,766.3 431.5,764.9 433.5,763.5 435.5,762.1 437.5,760.7 439.5,759.3 441.5,757.9 443.5,756.4 445.5,755.0 447.5,753.6 449.5,752.1 451.5,750.7 453.5,749.2 455.5,747.7 457.5,746.3 459.5,744.8 461.5,743.3 463.5,741.8 465.5,740.3 467.5,738.8 469.5,737.3 471.5,735.8 473.5,734.2 475.5,732.7 477.5,731.2 479.5,729.6 481.5,728.1 483.5,726.5 485.5,724.9 487.5,723.4 489.5,721.8 491.5,720.2 493.5,718.6 495.5,717.0 497.5,715.4 499.5,713.7 501.5,712.1 503.5,710.5 505.5,708.8 507.5,707.2 509.5,705.5 511.5,703.9 513.5,702.2 515.5,700.5 517.5,698.8 519.5,697.1 521.5,695.4 523.5,693.7 525.5,692.0 527.5,690.3 529.5,688.5 531.5,686.8 533.5,685.1 535.5,683.3 537.5,681.5 539.5,679.8 541.5,678.0 543.5,676.2 545.5,674.4 547.5,672.6 549.5,670.8 551.5,668.9 553.5,667.1 555.5,665.3 557.5,663.4 559.5,661.6 561.5,659.7 563.5,657.8 565.5,655.9 567.5,654.0 569.5,652.1 571.5,650.2 573.5,648.3 575.5,646.4 577.5,644.4 579.5,642.5 581.5,640.5 583.5,638.6 585.5,636.6 587.5,634.6 589.5,632.6 591.5,630.6 593.5,628.6 595.5,626.6 597.5,624.6 599.5,622.6 601.5,620.5 603.5,618.5 605.5,616.4 607.5,614.4 609.5,612.3 611.5,610.2 613.5,608.1 615.5,606.1 617.5,604.0 619.5,601.9 621.5,599.8 623.5,597.6 625.5,595.5 627.5,593.4 629.5,591.3 631.5,589.1 633.5,587.0 635.5,584.9 637.5,582.7 639.5,580.6 641.5,578.4 643.5,576.2 645.5,574.1 647.5,571.9 649.5,569.7 651.5,567.6 653.5,565.4 655.5,563.2 657.5,561.0 659.5,558.8 661.5,556.7 663.5,554.5 665.5,552.3 667.5,550.1 669.5,547.9 671.5,545.7 673.5,543.5 675.5,541.3 677.5,539.1 679.5,536.9 681.5,534.7 683.5,532.5 685.5,530.3 687.5,528.1 689.5,525.9 691.5,523.7 693.5,521.5 695.5,519.3 697.5,517.1 699.5,514.9 701.5,512.8 703.5,510.6 705.5,508.4 707.5,506.2 709.5,504.0 711.5,501.8 713.5,499.6 715.5,497.5 717.5,495.3 719.5,493.1 721.5,491.0 723.5,488.8 725.5,486.6 727.5,484.5 729.5,482.3 731.5,480.2 733.5,478.0 735.5,475.9 737.5,473.8 739.5,471.6 741.5,469.5 743.5,467.4 745.5,465.3 747.5,463.2 749.5,461.1 751.5,459.0 753.5,456.9 755.5,454.8 757.5,452.8 759.5,450.7 761.5,448.6 763.5,446.6 765.5,444.5 767.5,442.5 769.5,440.5 771.5,438.4 773.5,436.4 775.5,434.4 777.5,432.4 779.5,430.4 781.5,428.4 783.5,426.5 785.5,424.5 787.5,422.6 789.5,420.6 791.5,418.7 793.5,416.8 795.5,414.9 797.5,413.0 799.5,411.1 801.5,409.2 803.5,407.4 805.5,405.5 807.5,403.7 809.5,401.9 811.5,400.1 813.5,398.4 815.5,396.6 817.5,394.9 819.5,393.2 821.5,391.6 823.5,389.9 825.5,388.3 827.5,386.7 829.5,385.2 831.5,383.7 833.5,382.2 835.5,380.7 837.5,379.3 839.5,377.9 841.5,376.5 843.5,375.2 845.5,373.9 847.5,372.7 849.5,371.5 851.5,370.3 853.5,369.2 855.5,368.1 857.5,367.1 859.5,366.1 861.5,365.1 863.5,364.2 865.5,363.4 867.5,362.6 869.5,361.8 871.5,361.1 873.5,360.5 875.5,359.9 877.5,359.3 879.5,358.8 881.5,358.4 883.5,358.0 885.5,357.7 887.5,357.4 889.5,357.1 891.5,356.9 893.5,356.8 895.5,356.7 897.5,356.7 899.5,356.7 901.5,356.8 903.5,356.9 905.5,357.0 907.5,357.2 909.5,357.5 911.5,357.8 913.5,358.1 915.5,358.5 917.5,359.0 919.5,359.4 921.5,360.0 923.5,360.6 925.5,361.2 927.5,361.8 929.5,362.6 931.5,363.3 933.5,364.1 935.5,365.0 937.5,365.9 939.5,366.8 941.5,367.8 943.5,368.8 945.5,369.8 947.5,371.0 949.5,372.1 951.5,373.3 953.5,374.5 955.5,375.8 957.5,377.1 959.5,378.4 961.5,379.8 963.5,381.3 965.5,382.7 967.5,384.3 969.5,385.8 971.5,387.4 973.5,389.0 975.5,390.7 977.5,392.4 979.5,394.1 981.5,395.9 983.5,397.7 985.5,399.5 987.5,401.4 989.5,403.3 991.5,405.3 993.5,407.3 995.5,409.3 997.5,411.4 999.5,413.4 1001.5,415.6 1003.5,417.7 1005.5,419.9 1007.5,422.1 1009.5,424.4 1011.5,426.6 1013.5,429.0 1015.5,431.3 1017.5,433.7 1019.5,436.1 1021.5,438.5 1023.5,440.9 1025.5,443.4 1027.5,445.9 1029.5,448.5 1031.5,451.1 1033.5,453.7 1035.5,456.3 1037.5,458.9 1039.5,461.6 1041.5,464.3 1043.5,467.0 1045.5,469.8 1047.5,472.6 1049.5,475.4 1051.5,478.2 1053.5,481.1 1055.5,483.9 1057.5,486.8 1059.5,489.7 1061.5,492.7 1063.5,495.6 1065.5,498.6 1067.5,501.6 1069.5,504.7 1071.5,507.7 1073.5,510.8 1075.5,513.8 1077.5,517.0 1079.5,520.1 1081.5,523.2 1083.5,526.4 1085.5,529.6 1087.5,532.8 1089.5,536.0 1091.5,539.2 1093.5,542.4 1095.5,545.7 1097.5,549.0 1099.5,552.3 1101.5,555.6 1103.5,558.9 1105.5,562.2 1107.5,565.6 1109.5,569.0 1111.5,572.3 1113.5,575.7 1115.5,579.1 1117.5,582.5 1119.5,586.0 1121.5,589.4 1123.5,592.9 1125.5,596.3 1127.5,599.8 1129.5,603.3 1131.5,606.8 1133.5,610.3 1135.5,613.8 1137.5,617.3 1139.5,620.8 1141.5,624.3 1143.5,627.9 1145.5,631.4 1147.5,635.0 1149.5,638.6 1151.5,642.1 1153.5,645.7 1155.5,649.3 1157.5,652.9 1159.5,656.5 1161.5,660.1 1163.5,663.7 1165.5,667.3 1167.5,670.9 1169.5,674.5 1171.5,678.1 1173.5,681.7 1175.5,685.4 1177.5,689.0 1179.5,692.6 1181.5,696.2 1183.5,699.9 1185.5,703.5 1187.5,707.1 1189.5,710.7 1191.5,714.4 1193.5,718.0 1195.5,721.6 1197.5,725.3 1199.5,728.9 1201.5,732.5 1203.5,736.1 1205.5,739.7 1207.5,743.3 1209.5,746.9 1211.5,750.6 1213.5,754.2 1215.5,757.7 1217.5,761.3 1219.5,764.9 1221.5,768.5 1223.5,772.1 1225.5,775.6 1227.5,779.2 1229.5,782.8 1231.5,786.3 1233.5,789.8 1235.5,793.4 1237.5,796.9 1239.5,800.4 1241.5,803.9 1243.5,807.4 1245.5,810.9 1247.5,814.4 1249.5,817.8 1251.5,821.3 1253.5,824.7 1255.5,828.2 1257.5,831.6 1259.5,835.0 1261.5,838.4 1263.5,841.8 1265.5,845.2 1267.5,848.5 1269.5,851.9 1271.5,855.2 1273.5,858.5 1275.5,861.8 1277.5,865.1 1279.5,868.3 1281.5,871.6 1283.5,874.8 1285.5,878.0 1287.5,881.2 1289.5,884.4 1291.5,887.6 1293.5,890.7 1295.5,893.9 1297.5,897.0 1299.5,900.0 1301.5,903.1 1303.5,906.2 1305.5,909.2 1307.5,912.2 1309.5,915.1 1311.5,918.1 1313.5,921.0 1315.5,923.9 1317.5,926.8 1319.5,929.7 1321.5,932.5 1323.5,935.3 1325.5,938.1 1327.5,940.8 1329.5,943.6 1331.5,946.2 1333.5,948.9 1335.5,951.6 1337.5,954.2 1339.5,956.7 1341.5,959.3 1343.5,961.8 1345.5,964.3 1347.5,966.8 1349.5,969.2 1351.5,971.6 1353.5,974.0 1355.5,976.3 1357.5,978.6 1359.5,980.9 1361.5,983.2 1363.5,985.4 1365.5,987.6 1367.5,989.8 1369.5,991.9 1371.5,994.0 1373.5,996.1 1375.5,998.2 1377.5,1000.3 1379.5,1002.3 1381.5,1004.3 1383.5,1006.2 1385.5,1008.2 1387.5,1010.1 1389.5,1012.0 1391.5,1013.9 1393.5,1015.7 1395.5,1017.5 1397.5,1019.3 1399.5,1021.1 1401.5,1022.9 1403.5,1024.6 1405.5,1026.3 1407.5,1028.0 1409.5,1029.7 1411.5,1031.3 1413.5,1033.0 1415.5,1034.6 1417.5,1036.2 1419.5,1037.8 1421.5,1039.3 1423.5,1040.8 1425.5,1042.4 1427.5,1043.9 1429.5,1045.3 1431.5,1046.8 1433.5,1048.2 1435.5,1049.7 1437.5,1051.1 1439.5,1052.5 1441.5,1053.9 1443.5,1055.2 1445.5,1056.6 1447.5,1057.9 1449.5,1059.2 1451.5,1060.5 1453.5,1061.8 1455.5,1063.0 1457.5,1064.3 1459.5,1065.5 1461.5,1066.7 1463.5,1067.9 1465.5,1069.1 1467.5,1070.3 1469.5,1071.4 1471.5,1072.6 1473.5,1073.7 1475.5,1074.8 1477.5,1075.9 1479.5,1077.0 1481.5,1078.1 1483.5,1079.1 1485.5,1080.1 1487.5,1081.2 1489.5,1082.2 1491.5,1083.2 1493.5,1084.2 1495.5,1085.1 1497.5,1086.1 1499.5,1087.0 1501.5,1087.9 1503.5,1088.8 1505.5,1089.7 1507.5,1090.6 1509.5,1091.5 1511.5,1092.4 1513.5,1093.2 1515.5,1094.0 1517.5,1094.9 1519.5,1095.7 1521.5,1096.5 1523.5,1097.3 1525.5,1098.0 1527.5,1098.8 1529.5,1099.5 1531.5,1100.3 1533.5,1101.0 1535.5,1101.7 1537.5,1102.4 1539.5,1103.1 1541.5,1103.8 1543.5,1104.5 1545.5,1105.1 1547.5,1105.8 1549.5,1106.4 1551.5,1107.0 1553.5,1107.6 1555.5,1108.2 1557.5,1108.8 1559.5,1109.4 1561.5,1110.0 1563.5,1110.5 1565.5,1111.1 1567.5,1111.6 1569.5,1112.2 1571.5,1112.7 1573.5,1113.2 1575.5,1113.7 1577.5,1114.2 1579.5,1114.7 1581.5,1115.1 1583.5,1115.6 1585.5,1116.1 1587.5,1116.5 1589.5,1116.9 1591.5,1117.4 1593.5,1117.8 1595.5,1118.2 1597.5,1118.6 1599.5,1119.0 1601.5,1119.4 1603.5,1119.8 1605.5,1120.1 1607.5,1120.5 1609.5,1120.9 1611.5,1121.2 1613.5,1121.6 1615.5,1121.9 1617.5,1122.2 1619.5,1122.5 1621.5,1122.8 1623.5,1123.1 1625.5,1123.4 1627.5,1123.7 1629.5,1124.0 1631.5,1124.3 1633.5,1124.6 1635.5,1124.8 1637.5,1125.1 1639.5,1125.4 1641.5,1125.6 1643.5,1125.8 1645.5,1126.1 1647.5,1126.3 1649.5,1126.5 1651.5,1126.8 1653.5,1127.0 1655.5,1127.2 1657.5,1127.4 1659.5,1127.6 1661.5,1127.8 1663.5,1128.0 1665.5,1128.1 1667.5,1128.3 1669.5,1128.5 1671.5,1128.7 1673.5,1128.8 1675.5,1129.0 1677.5,1129.1 1679.5,1129.3 1681.5,1129.5 1683.5,1129.6 1685.5,1129.7 1687.5,1129.9 1689.5,1130.0 1691.5,1130.1 1693.5,1130.3 1695.5,1130.4 1697.5,1130.5 1699.5,1130.6 1701.5,1130.8 1703.5,1130.9 1705.5,1131.0 1707.5,1131.1 1709.5,1131.2 1711.5,1131.3 1713.5,1131.4 1715.5,1131.5 1717.5,1131.6 1719.5,1131.7 1721.5,1131.8 1723.5,1131.9 1725.5,1132.0 1727.5,1132.1 1729.5,1132.2 1731.5,1132.3 1733.5,1132.4 1735.5,1132.4 1737.5,1132.5 1739.5,1132.6 1741.5,1132.7 1743.5,1132.8 1745.5,1132.9 1747.5,1132.9 1749.5,1133.0 1751.5,1133.1 1753.5,1133.2 1755.5,1133.3 1757.5,1133.4 1759.5,1133.4 1761.5,1133.5 1763.5,1133.6 1765.5,1133.7 1767.5,1133.8 1769.5,1133.9 1771.5,1134.0 1773.5,1134.0 1775.5,1134.1 1777.5,1134.2 1779.5,1134.3 1781.5,1134.4 1783.5,1134.5 1785.5,1134.6 1787.5,1134.7 1789.5,1134.8 1791.5,1134.9 1793.5,1135.0 1795.5,1135.1 1797.5,1135.2 1799.5,1135.3 1801.5,1135.5 1803.5,1135.6 1805.5,1135.7 1807.5,1135.8 1809.5,1135.9 1811.5,1136.1 1813.5,1136.2 1815.5,1136.3 1817.5,1136.5 1819.5,1136.6 1821.5,1136.8 1823.5,1136.9 1825.5,1137.1 1827.5,1137.2 1829.5,1137.4 1831.5,1137.6 1833.5,1137.7 1835.5,1137.9 1837.5,1138.1 1839.5,1138.3 1841.5,1138.5 1843.0,1138.6" stroke="#008080"/>
</g>
<g stroke="#000" stroke-width="5.0" fill="none" stroke-linecap="butt">
<line x1="222.5" y1="1150.8" x2="248.0" y2="1150.8"/>
<line x1="222.5" y1="968.0" x2="248.0" y2="968.0"/>
<line x1="222.5" y1="785.1" x2="248.0" y2="785.1"/>
<line x1="222.5" y1="602.3" x2="248.0" y2="602.3"/>
<line x1="222.5" y1="419.5" x2="248.0" y2="419.5"/>
<line x1="222.5" y1="236.6" x2="248.0" y2="236.6"/>
<line x1="222.5" y1="53.8" x2="248.0" y2="53.8"/>
<line x1="233.5" y1="1059.4" x2="248.0" y2="1059.4"/>
<line x1="233.5" y1="876.5" x2="248.0" y2="876.5"/>
<line x1="233.5" y1="693.7" x2="248.0" y2="693.7"/>
<line x1="233.5" y1="510.9" x2="248.0" y2="510.9"/>
<line x1="233.5" y1="328.0" x2="248.0" y2="328.0"/>
<line x1="233.5" y1="145.2" x2="248.0" y2="145.2"/>
<line x1="310.0" y1="1240.5" x2="310.0" y2="1267"/>
<line x1="923.0" y1="1240.5" x2="923.0" y2="1267"/>
<line x1="1536.0" y1="1240.5" x2="1536.0" y2="1267"/>
<line x1="616.5" y1="1240.5" x2="616.5" y2="1255"/>
<line x1="1229.5" y1="1240.5" x2="1229.5" y2="1255"/>
<line x1="1842.5" y1="1240.5" x2="1842.5" y2="1255"/>
</g>
<path d="M222.5,53.8 L248.0,53.8 L248.0,1243.0 M233,1240.5 L1845.5,1240.5" stroke="#000" stroke-width="6.0" fill="none" stroke-linejoin="round"/>
<line x1="1529.8" y1="249.7" x2="1529.8" y2="1056" stroke="#000" stroke-width="4.4"/>
<path d="M1520.3,1050.4 L1538.3,1050.4 L1537.7,1062 L1532.3,1085.6 L1526.7,1085.6 L1521,1062 Z" fill="#000"/>
<text class="tl" transform="translate(207.8,1163.6) scale(0.95,1)" text-anchor="end">0.0</text>
<text class="tl" transform="translate(207.8,980.8) scale(0.95,1)" text-anchor="end">0.2</text>
<text class="tl" transform="translate(207.8,797.9) scale(0.95,1)" text-anchor="end">0.4</text>
<text class="tl" transform="translate(207.8,615.1) scale(0.95,1)" text-anchor="end">0.6</text>
<text class="tl" transform="translate(207.8,432.3) scale(0.95,1)" text-anchor="end">0.8</text>
<text class="tl" transform="translate(207.8,249.4) scale(0.95,1)" text-anchor="end">1.0</text>
<text class="tl" transform="translate(207.8,66.6) scale(0.95,1)" text-anchor="end">1.2</text>
<text class="tl" transform="translate(309.7,1316.2) scale(0.95,1)" text-anchor="middle">400</text>
<text class="tl" transform="translate(922.7,1316.2) scale(0.95,1)" text-anchor="middle">500</text>
<text class="tl" transform="translate(1535.7,1316.2) scale(0.95,1)" text-anchor="middle">600</text>
<text class="at" transform="translate(1050,1401) scale(0.999,0.9625)" text-anchor="middle">Wavelength (nm)</text>
<text class="at" transform="translate(94.3,671.4) rotate(-90) scale(0.998,1.02)" text-anchor="middle">Absorbance (a. u.)</text>
<text class="an" transform="translate(1568.6,306.6) scale(1,1.045)">0 min</text>
<text class="an" transform="translate(1579.8,1058.8) scale(1,1.045)">20 min</text>
</svg>
</body></html>
